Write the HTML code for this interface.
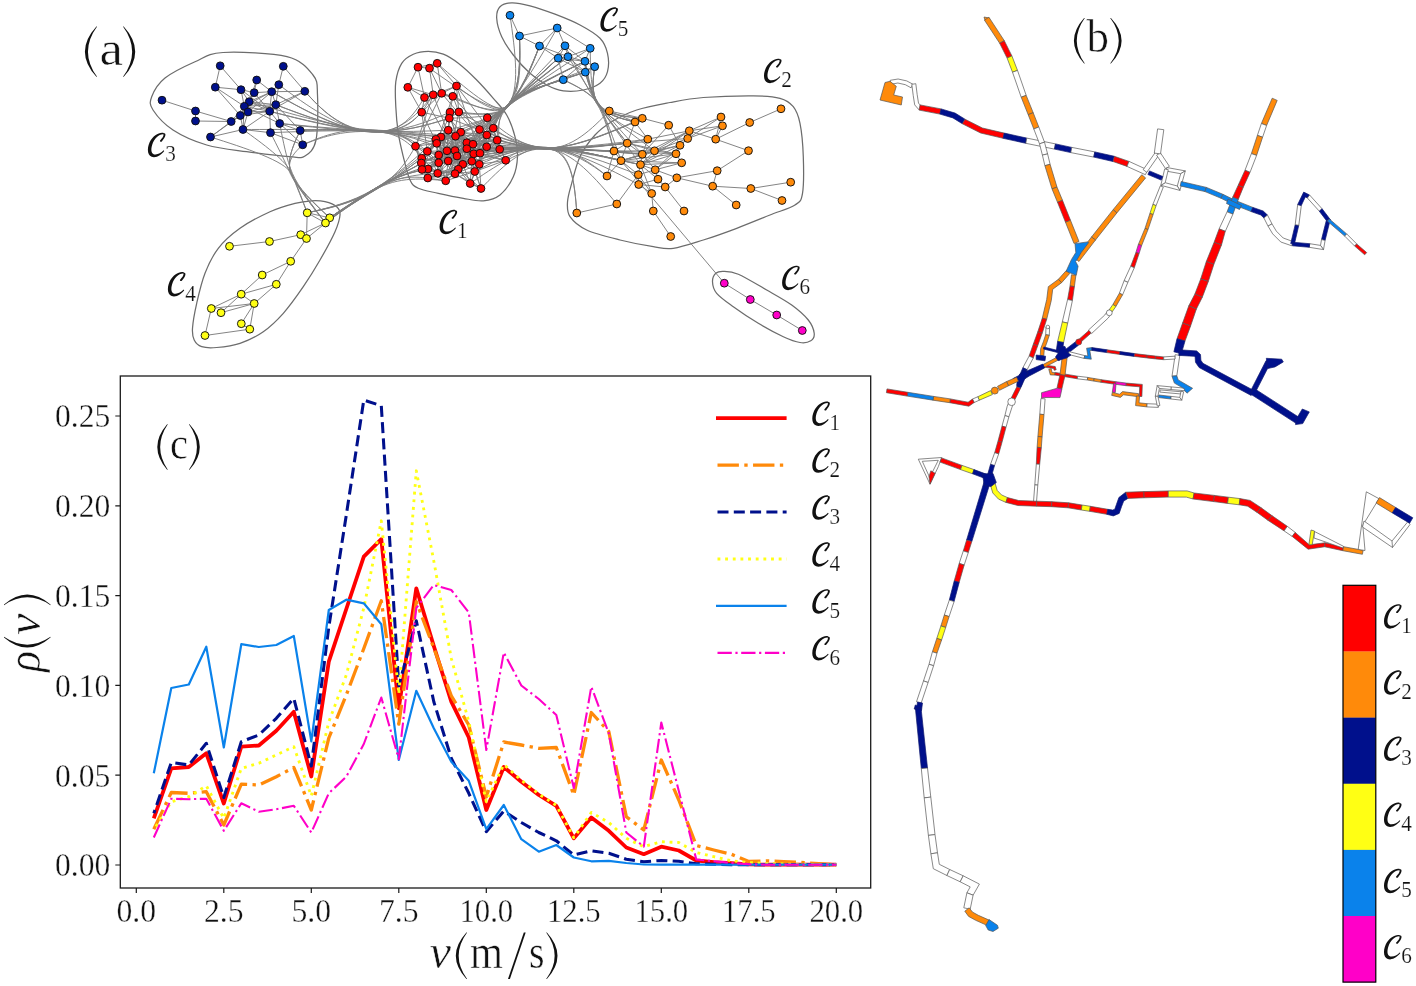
<!DOCTYPE html>
<html><head><meta charset="utf-8"><title>figure</title>
<style>
html,body{margin:0;padding:0;background:#fff;}
body{width:1416px;height:986px;overflow:hidden;font-family:"Liberation Serif",serif;}
svg{display:block;will-change:transform;}
text{font-family:"Liberation Serif",serif;fill:#111;}
</style></head><body>
<svg width="1416" height="986" viewBox="0 0 1416 986">
<rect width="1416" height="986" fill="#fff"/>
<g fill="none" stroke-linejoin="round">
<polyline points="153.8,818.3 171.3,768.3 188.8,767.0 206.3,753.3 223.8,803.5 241.3,746.7 258.8,745.5 276.3,730.8 293.8,711.7 311.3,776.5 328.8,661.7 346.3,609.0 363.8,556.7 381.3,539.2 398.8,708.3 416.3,588.3 433.8,646.0 451.3,701.7 468.8,737.5 486.3,810.0 503.8,767.0 521.3,781.7 538.8,795.0 556.3,805.8 573.8,838.3 591.3,817.5 608.8,830.8 626.3,847.5 643.8,854.2 661.3,846.7 678.8,850.5 696.3,860.5 713.8,862.2 731.3,863.2 748.8,864.3 766.3,864.7 783.8,864.7 801.3,864.7 818.8,864.7 836.3,864.7" stroke="#ff0000" stroke-width="3.80"/>
<polyline points="153.8,829.2 171.3,792.5 188.8,793.3 206.3,791.7 223.8,825.0 241.3,784.2 258.8,785.0 276.3,776.7 293.8,767.5 311.3,810.0 328.8,738.0 346.3,695.0 363.8,648.5 381.3,600.8 398.8,724.2 416.3,601.7 433.8,648.0 451.3,695.8 468.8,725.0 486.3,797.0 503.8,742.0 521.3,745.0 538.8,748.3 556.3,747.5 573.8,795.0 591.3,712.5 608.8,731.7 626.3,816.7 643.8,830.0 661.3,760.0 678.8,800.0 696.3,845.5 713.8,850.0 731.3,854.2 748.8,861.5 766.3,860.8 783.8,861.7 801.3,862.5 818.8,863.7 836.3,864.7" stroke="#ff8a0a" stroke-width="3.30" stroke-dasharray="21.4 5.4 3.35 5.4"/>
<polyline points="153.8,813.3 171.3,762.5 188.8,765.0 206.3,743.3 223.8,797.5 241.3,741.7 258.8,735.0 276.3,718.3 293.8,698.3 311.3,766.0 328.8,627.0 346.3,515.0 363.8,400.0 381.3,405.8 398.8,686.0 416.3,620.8 433.8,701.7 451.3,758.3 468.8,793.3 486.3,831.7 503.8,811.0 521.3,822.5 538.8,832.5 556.3,840.8 573.8,855.0 591.3,850.8 608.8,853.3 626.3,859.2 643.8,861.7 661.3,860.5 678.8,861.3 696.3,863.7 713.8,864.2 731.3,864.7 748.8,864.7 766.3,864.7 783.8,864.7 801.3,864.7 818.8,864.7 836.3,864.7" stroke="#00108c" stroke-width="3.05" stroke-dasharray="11.0 5.3" stroke-dashoffset="7.4"/>
<polyline points="153.8,830.0 171.3,801.7 188.8,796.7 206.3,785.8 223.8,818.3 241.3,768.3 258.8,763.3 276.3,755.0 293.8,746.7 311.3,796.0 328.8,722.0 346.3,675.0 363.8,608.0 381.3,520.8 398.8,694.0 416.3,470.8 433.8,561.0 451.3,658.3 468.8,721.7 486.3,801.7 503.8,764.5 521.3,780.3 538.8,794.0 556.3,805.3 573.8,837.8 591.3,812.5 608.8,822.5 626.3,838.3 643.8,846.7 661.3,841.7 678.8,842.5 696.3,852.5 713.8,856.7 731.3,860.8 748.8,862.5 766.3,863.5 783.8,864.0 801.3,864.3 818.8,864.7 836.3,864.7" stroke="#ffff14" stroke-width="2.85" stroke-dasharray="2.85 4.8" stroke-dashoffset="3.57"/>
<polyline points="153.8,773.3 171.3,688.0 188.8,684.5 206.3,646.7 223.8,747.5 241.3,644.2 258.8,647.0 276.3,645.0 293.8,636.0 311.3,741.3 328.8,610.0 346.3,599.7 363.8,603.3 381.3,624.2 398.8,760.0 416.3,690.8 433.8,728.3 451.3,761.7 468.8,780.8 486.3,829.2 503.8,805.0 521.3,839.2 538.8,851.7 556.3,845.0 573.8,857.5 591.3,861.3 608.8,860.8 626.3,863.0 643.8,864.5 661.3,864.7 678.8,864.7 696.3,864.7 713.8,864.7 731.3,864.7 748.8,864.7 766.3,864.7 783.8,864.7 801.3,864.7 818.8,864.7 836.3,864.7" stroke="#0a82eb" stroke-width="2.20"/>
<polyline points="153.8,837.5 171.3,798.7 188.8,799.2 206.3,798.7 223.8,830.8 241.3,803.3 258.8,811.7 276.3,809.2 293.8,805.8 311.3,832.5 328.8,793.3 346.3,776.7 363.8,744.0 381.3,697.5 398.8,759.2 416.3,608.0 433.8,585.0 451.3,590.0 468.8,612.5 486.3,750.0 503.8,652.5 521.3,685.5 538.8,699.0 556.3,715.0 573.8,788.0 591.3,686.7 608.8,733.3 626.3,832.5 643.8,846.7 661.3,722.5 678.8,791.0 696.3,859.5 713.8,861.3 731.3,863.0 748.8,864.2 766.3,864.7 783.8,864.7 801.3,864.7 818.8,864.7 836.3,864.7" stroke="#ff00c8" stroke-width="2.10" stroke-dasharray="14.3 3.6 2.2 3.6"/>
</g>
<rect x="120.3" y="376" width="750.4" height="512" fill="none" stroke="#1a1a1a" stroke-width="1.3"/>
<path d="M136.3 888v5 M223.8 888v5 M311.3 888v5 M398.8 888v5 M486.3 888v5 M573.8 888v5 M661.3 888v5 M748.8 888v5 M836.3 888v5 M120.3 865.0h-5 M120.3 775.2h-5 M120.3 685.4h-5 M120.3 595.6h-5 M120.3 505.8h-5 M120.3 416.0h-5" stroke="#1a1a1a" stroke-width="1.2" fill="none"/>
<path d="M716.0 418.2H786.6" stroke="#ff0000" stroke-width="3.8" fill="none"/>
<path d="M717.5 465.1H786.6" stroke="#ff8a0a" stroke-width="3.3" fill="none" stroke-dasharray="21.4 5.4 3.35 5.4"/>
<path d="M717.5 512.1H786.6" stroke="#00108c" stroke-width="3.0" fill="none" stroke-dasharray="11.0 5.3"/>
<path d="M717.5 559.0H786.6" stroke="#ffff14" stroke-width="2.9" fill="none" stroke-dasharray="2.85 4.8"/>
<path d="M716.0 605.9H786.6" stroke="#0a82eb" stroke-width="2.2" fill="none"/>
<path d="M717.5 652.9H786.6" stroke="#ff00c8" stroke-width="2.1" fill="none" stroke-dasharray="14.3 3.6 2.2 3.6"/>
<rect x="1343" y="585.40" width="32.8" height="66.30" fill="#ff0000"/>
<rect x="1343" y="651.52" width="32.8" height="66.30" fill="#ff8a0a"/>
<rect x="1343" y="717.64" width="32.8" height="66.30" fill="#00108c"/>
<rect x="1343" y="783.76" width="32.8" height="66.30" fill="#ffff14"/>
<rect x="1343" y="849.88" width="32.8" height="66.30" fill="#0a82eb"/>
<rect x="1343" y="916.00" width="32.8" height="66.30" fill="#ff00c8"/>
<rect x="1343" y="585.3" width="32.8" height="396.8" fill="none" stroke="#000" stroke-width="1.2"/>
<g fill="#111">
<text x="55.0" y="876.4" font-size="33.6" textLength="55.2" lengthAdjust="spacingAndGlyphs" text-anchor="start" stroke="#fff" stroke-width="0.35">0.00</text>
<text x="55.0" y="786.6" font-size="33.6" textLength="55.2" lengthAdjust="spacingAndGlyphs" text-anchor="start" stroke="#fff" stroke-width="0.35">0.05</text>
<text x="55.0" y="696.8" font-size="33.6" textLength="55.2" lengthAdjust="spacingAndGlyphs" text-anchor="start" stroke="#fff" stroke-width="0.35">0.10</text>
<text x="55.0" y="607.0" font-size="33.6" textLength="55.2" lengthAdjust="spacingAndGlyphs" text-anchor="start" stroke="#fff" stroke-width="0.35">0.15</text>
<text x="55.0" y="517.2" font-size="33.6" textLength="55.2" lengthAdjust="spacingAndGlyphs" text-anchor="start" stroke="#fff" stroke-width="0.35">0.20</text>
<text x="55.0" y="427.4" font-size="33.6" textLength="55.2" lengthAdjust="spacingAndGlyphs" text-anchor="start" stroke="#fff" stroke-width="0.35">0.25</text>
<text x="116.5" y="921.7" font-size="33.6" textLength="39.6" lengthAdjust="spacingAndGlyphs" text-anchor="start" stroke="#fff" stroke-width="0.35">0.0</text>
<text x="204.0" y="921.7" font-size="33.6" textLength="39.6" lengthAdjust="spacingAndGlyphs" text-anchor="start" stroke="#fff" stroke-width="0.35">2.5</text>
<text x="291.5" y="921.7" font-size="33.6" textLength="39.6" lengthAdjust="spacingAndGlyphs" text-anchor="start" stroke="#fff" stroke-width="0.35">5.0</text>
<text x="379.0" y="921.7" font-size="33.6" textLength="39.6" lengthAdjust="spacingAndGlyphs" text-anchor="start" stroke="#fff" stroke-width="0.35">7.5</text>
<text x="459.4" y="921.7" font-size="33.6" textLength="53.8" lengthAdjust="spacingAndGlyphs" text-anchor="start" stroke="#fff" stroke-width="0.35">10.0</text>
<text x="546.9" y="921.7" font-size="33.6" textLength="53.8" lengthAdjust="spacingAndGlyphs" text-anchor="start" stroke="#fff" stroke-width="0.35">12.5</text>
<text x="634.4" y="921.7" font-size="33.6" textLength="53.8" lengthAdjust="spacingAndGlyphs" text-anchor="start" stroke="#fff" stroke-width="0.35">15.0</text>
<text x="721.9" y="921.7" font-size="33.6" textLength="53.8" lengthAdjust="spacingAndGlyphs" text-anchor="start" stroke="#fff" stroke-width="0.35">17.5</text>
<text x="809.4" y="921.7" font-size="33.6" textLength="53.8" lengthAdjust="spacingAndGlyphs" text-anchor="start" stroke="#fff" stroke-width="0.35">20.0</text>
<text x="99.5" y="64.8" font-size="49.0" textLength="23.5" lengthAdjust="spacingAndGlyphs" text-anchor="start" stroke="#fff" stroke-width="0.55">a</text>
<text x="1086.5" y="52.4" font-size="47.0" textLength="22.5" lengthAdjust="spacingAndGlyphs" text-anchor="start" stroke="#fff" stroke-width="0.55">b</text>
<text x="170.0" y="458.7" font-size="47.0" textLength="18.0" lengthAdjust="spacingAndGlyphs" text-anchor="start" stroke="#fff" stroke-width="0.55">c</text>
<text x="429.5" y="967.8" font-size="48.0" font-style="italic" textLength="21.5" lengthAdjust="spacingAndGlyphs" text-anchor="start" stroke="#fff" stroke-width="0.55">v</text>
<text x="470.0" y="967.8" font-size="48.0" textLength="33.0" lengthAdjust="spacingAndGlyphs" text-anchor="start" stroke="#fff" stroke-width="0.55">m</text>
<text x="529.0" y="967.8" font-size="48.0" textLength="15.5" lengthAdjust="spacingAndGlyphs" text-anchor="start" stroke="#fff" stroke-width="0.55">s</text>
<path d="M523.8 932.5L525.7 932.5L509.9 979L508 979Z"/>
<g transform="translate(0 0)">
</g>
<path d="M96.40 26.50Q73.40 51.65 96.40 76.80L97.10 76.80Q78.80 51.65 97.10 26.50Z M123.70 26.50Q146.70 51.65 123.70 76.80L123.00 76.80Q141.30 51.65 123.00 26.50Z M1084.10 17.90Q1063.70 40.70 1084.10 63.50L1084.80 63.50Q1068.70 40.70 1084.80 17.90Z M1110.90 17.90Q1132.30 40.70 1110.90 63.50L1110.20 63.50Q1127.30 40.70 1110.20 17.90Z M167.10 424.20Q147.50 446.95 167.10 469.70L167.80 469.70Q152.50 446.95 167.80 424.20Z M189.60 424.20Q210.00 446.95 189.60 469.70L188.90 469.70Q205.00 446.95 188.90 424.20Z M466.40 932.50Q445.20 955.75 466.40 979.00L467.10 979.00Q450.20 955.75 467.10 932.50Z M546.90 932.50Q568.10 955.75 546.90 979.00L546.20 979.00Q563.10 955.75 546.20 932.50Z"/>
</g>
<g fill="#111" transform="translate(39.5 672) rotate(-90)"><text x="0.0" y="0.0" font-size="48.0" font-style="italic" textLength="21.0" lengthAdjust="spacingAndGlyphs" text-anchor="start" stroke="#fff" stroke-width="0.55">ρ</text><path d="M34.50 -35.50Q14.50 -12.25 34.50 11.00L35.20 11.00Q19.50 -12.25 35.20 -35.50Z M67.50 -35.50Q87.50 -12.25 67.50 11.00L66.80 11.00Q82.50 -12.25 66.80 -35.50Z"/><text x="37.0" y="0.0" font-size="48.0" font-style="italic" textLength="21.5" lengthAdjust="spacingAndGlyphs" text-anchor="start" stroke="#fff" stroke-width="0.55">v</text></g>
<g fill="#111">
<g transform="translate(439.20 234.20) scale(0.04286 0.04169) translate(-320 -775)"><path d="M700 198C610 163 448 253 372 413C296 580 316 778 470 778C572 778 652 702 710 628L695 612C642 668 573 712 508 712C409 712 390 604 430 476C476 330 588 219 690 226Z"/><path d="M683 199C768 198 756 278 654 400C640 414 600 402 612 376C658 330 710 262 688 228Z"/></g><text x="456.9" y="238.3" font-size="23.3" textLength="10.6" lengthAdjust="spacingAndGlyphs" text-anchor="start" stroke="#fff" stroke-width="0.2">1</text>
<g transform="translate(763.60 83.00) scale(0.04286 0.04169) translate(-320 -775)"><path d="M700 198C610 163 448 253 372 413C296 580 316 778 470 778C572 778 652 702 710 628L695 612C642 668 573 712 508 712C409 712 390 604 430 476C476 330 588 219 690 226Z"/><path d="M683 199C768 198 756 278 654 400C640 414 600 402 612 376C658 330 710 262 688 228Z"/></g><text x="781.3" y="87.1" font-size="23.3" textLength="10.6" lengthAdjust="spacingAndGlyphs" text-anchor="start" stroke="#fff" stroke-width="0.2">2</text>
<g transform="translate(147.50 157.10) scale(0.04286 0.04169) translate(-320 -775)"><path d="M700 198C610 163 448 253 372 413C296 580 316 778 470 778C572 778 652 702 710 628L695 612C642 668 573 712 508 712C409 712 390 604 430 476C476 330 588 219 690 226Z"/><path d="M683 199C768 198 756 278 654 400C640 414 600 402 612 376C658 330 710 262 688 228Z"/></g><text x="165.2" y="161.2" font-size="23.3" textLength="10.6" lengthAdjust="spacingAndGlyphs" text-anchor="start" stroke="#fff" stroke-width="0.2">3</text>
<g transform="translate(167.50 296.40) scale(0.04286 0.04169) translate(-320 -775)"><path d="M700 198C610 163 448 253 372 413C296 580 316 778 470 778C572 778 652 702 710 628L695 612C642 668 573 712 508 712C409 712 390 604 430 476C476 330 588 219 690 226Z"/><path d="M683 199C768 198 756 278 654 400C640 414 600 402 612 376C658 330 710 262 688 228Z"/></g><text x="185.2" y="300.5" font-size="23.3" textLength="10.6" lengthAdjust="spacingAndGlyphs" text-anchor="start" stroke="#fff" stroke-width="0.2">4</text>
<g transform="translate(600.00 31.70) scale(0.04286 0.04169) translate(-320 -775)"><path d="M700 198C610 163 448 253 372 413C296 580 316 778 470 778C572 778 652 702 710 628L695 612C642 668 573 712 508 712C409 712 390 604 430 476C476 330 588 219 690 226Z"/><path d="M683 199C768 198 756 278 654 400C640 414 600 402 612 376C658 330 710 262 688 228Z"/></g><text x="617.7" y="35.8" font-size="23.3" textLength="10.6" lengthAdjust="spacingAndGlyphs" text-anchor="start" stroke="#fff" stroke-width="0.2">5</text>
<g transform="translate(781.70 290.00) scale(0.04286 0.04169) translate(-320 -775)"><path d="M700 198C610 163 448 253 372 413C296 580 316 778 470 778C572 778 652 702 710 628L695 612C642 668 573 712 508 712C409 712 390 604 430 476C476 330 588 219 690 226Z"/><path d="M683 199C768 198 756 278 654 400C640 414 600 402 612 376C658 330 710 262 688 228Z"/></g><text x="799.4" y="294.1" font-size="23.3" textLength="10.6" lengthAdjust="spacingAndGlyphs" text-anchor="start" stroke="#fff" stroke-width="0.2">6</text>
<g transform="translate(811.90 425.80) scale(0.04286 0.04169) translate(-320 -775)"><path d="M700 198C610 163 448 253 372 413C296 580 316 778 470 778C572 778 652 702 710 628L695 612C642 668 573 712 508 712C409 712 390 604 430 476C476 330 588 219 690 226Z"/><path d="M683 199C768 198 756 278 654 400C640 414 600 402 612 376C658 330 710 262 688 228Z"/></g><text x="829.6" y="429.9" font-size="23.3" textLength="10.6" lengthAdjust="spacingAndGlyphs" text-anchor="start" stroke="#fff" stroke-width="0.2">1</text>
<g transform="translate(1383.60 628.50) scale(0.04286 0.04169) translate(-320 -775)"><path d="M700 198C610 163 448 253 372 413C296 580 316 778 470 778C572 778 652 702 710 628L695 612C642 668 573 712 508 712C409 712 390 604 430 476C476 330 588 219 690 226Z"/><path d="M683 199C768 198 756 278 654 400C640 414 600 402 612 376C658 330 710 262 688 228Z"/></g><text x="1401.3" y="632.6" font-size="23.3" textLength="10.6" lengthAdjust="spacingAndGlyphs" text-anchor="start" stroke="#fff" stroke-width="0.2">1</text>
<g transform="translate(811.90 472.73) scale(0.04286 0.04169) translate(-320 -775)"><path d="M700 198C610 163 448 253 372 413C296 580 316 778 470 778C572 778 652 702 710 628L695 612C642 668 573 712 508 712C409 712 390 604 430 476C476 330 588 219 690 226Z"/><path d="M683 199C768 198 756 278 654 400C640 414 600 402 612 376C658 330 710 262 688 228Z"/></g><text x="829.6" y="476.8" font-size="23.3" textLength="10.6" lengthAdjust="spacingAndGlyphs" text-anchor="start" stroke="#fff" stroke-width="0.2">2</text>
<g transform="translate(1383.60 694.65) scale(0.04286 0.04169) translate(-320 -775)"><path d="M700 198C610 163 448 253 372 413C296 580 316 778 470 778C572 778 652 702 710 628L695 612C642 668 573 712 508 712C409 712 390 604 430 476C476 330 588 219 690 226Z"/><path d="M683 199C768 198 756 278 654 400C640 414 600 402 612 376C658 330 710 262 688 228Z"/></g><text x="1401.3" y="698.8" font-size="23.3" textLength="10.6" lengthAdjust="spacingAndGlyphs" text-anchor="start" stroke="#fff" stroke-width="0.2">2</text>
<g transform="translate(811.90 519.66) scale(0.04286 0.04169) translate(-320 -775)"><path d="M700 198C610 163 448 253 372 413C296 580 316 778 470 778C572 778 652 702 710 628L695 612C642 668 573 712 508 712C409 712 390 604 430 476C476 330 588 219 690 226Z"/><path d="M683 199C768 198 756 278 654 400C640 414 600 402 612 376C658 330 710 262 688 228Z"/></g><text x="829.6" y="523.8" font-size="23.3" textLength="10.6" lengthAdjust="spacingAndGlyphs" text-anchor="start" stroke="#fff" stroke-width="0.2">3</text>
<g transform="translate(1383.60 760.80) scale(0.04286 0.04169) translate(-320 -775)"><path d="M700 198C610 163 448 253 372 413C296 580 316 778 470 778C572 778 652 702 710 628L695 612C642 668 573 712 508 712C409 712 390 604 430 476C476 330 588 219 690 226Z"/><path d="M683 199C768 198 756 278 654 400C640 414 600 402 612 376C658 330 710 262 688 228Z"/></g><text x="1401.3" y="764.9" font-size="23.3" textLength="10.6" lengthAdjust="spacingAndGlyphs" text-anchor="start" stroke="#fff" stroke-width="0.2">3</text>
<g transform="translate(811.90 566.59) scale(0.04286 0.04169) translate(-320 -775)"><path d="M700 198C610 163 448 253 372 413C296 580 316 778 470 778C572 778 652 702 710 628L695 612C642 668 573 712 508 712C409 712 390 604 430 476C476 330 588 219 690 226Z"/><path d="M683 199C768 198 756 278 654 400C640 414 600 402 612 376C658 330 710 262 688 228Z"/></g><text x="829.6" y="570.7" font-size="23.3" textLength="10.6" lengthAdjust="spacingAndGlyphs" text-anchor="start" stroke="#fff" stroke-width="0.2">4</text>
<g transform="translate(1383.60 826.95) scale(0.04286 0.04169) translate(-320 -775)"><path d="M700 198C610 163 448 253 372 413C296 580 316 778 470 778C572 778 652 702 710 628L695 612C642 668 573 712 508 712C409 712 390 604 430 476C476 330 588 219 690 226Z"/><path d="M683 199C768 198 756 278 654 400C640 414 600 402 612 376C658 330 710 262 688 228Z"/></g><text x="1401.3" y="831.1" font-size="23.3" textLength="10.6" lengthAdjust="spacingAndGlyphs" text-anchor="start" stroke="#fff" stroke-width="0.2">4</text>
<g transform="translate(811.90 613.52) scale(0.04286 0.04169) translate(-320 -775)"><path d="M700 198C610 163 448 253 372 413C296 580 316 778 470 778C572 778 652 702 710 628L695 612C642 668 573 712 508 712C409 712 390 604 430 476C476 330 588 219 690 226Z"/><path d="M683 199C768 198 756 278 654 400C640 414 600 402 612 376C658 330 710 262 688 228Z"/></g><text x="829.6" y="617.6" font-size="23.3" textLength="10.6" lengthAdjust="spacingAndGlyphs" text-anchor="start" stroke="#fff" stroke-width="0.2">5</text>
<g transform="translate(1383.60 893.10) scale(0.04286 0.04169) translate(-320 -775)"><path d="M700 198C610 163 448 253 372 413C296 580 316 778 470 778C572 778 652 702 710 628L695 612C642 668 573 712 508 712C409 712 390 604 430 476C476 330 588 219 690 226Z"/><path d="M683 199C768 198 756 278 654 400C640 414 600 402 612 376C658 330 710 262 688 228Z"/></g><text x="1401.3" y="897.2" font-size="23.3" textLength="10.6" lengthAdjust="spacingAndGlyphs" text-anchor="start" stroke="#fff" stroke-width="0.2">5</text>
<g transform="translate(811.90 660.45) scale(0.04286 0.04169) translate(-320 -775)"><path d="M700 198C610 163 448 253 372 413C296 580 316 778 470 778C572 778 652 702 710 628L695 612C642 668 573 712 508 712C409 712 390 604 430 476C476 330 588 219 690 226Z"/><path d="M683 199C768 198 756 278 654 400C640 414 600 402 612 376C658 330 710 262 688 228Z"/></g><text x="829.6" y="664.6" font-size="23.3" textLength="10.6" lengthAdjust="spacingAndGlyphs" text-anchor="start" stroke="#fff" stroke-width="0.2">6</text>
<g transform="translate(1383.60 959.25) scale(0.04286 0.04169) translate(-320 -775)"><path d="M700 198C610 163 448 253 372 413C296 580 316 778 470 778C572 778 652 702 710 628L695 612C642 668 573 712 508 712C409 712 390 604 430 476C476 330 588 219 690 226Z"/><path d="M683 199C768 198 756 278 654 400C640 414 600 402 612 376C658 330 710 262 688 228Z"/></g><text x="1401.3" y="963.4" font-size="23.3" textLength="10.6" lengthAdjust="spacingAndGlyphs" text-anchor="start" stroke="#fff" stroke-width="0.2">6</text>
</g>
<g fill="none" stroke="#6c6c6c" stroke-width="1.25">
<path d="M223.0 52.5C238.3 51.7 272.0 53.0 287.0 56.7C302.0 60.5 307.9 68.6 313.0 75.0C318.1 81.4 317.0 84.2 317.5 95.0C318.0 105.8 318.1 129.8 316.0 140.0C313.9 150.2 309.3 153.2 305.0 156.0C300.7 158.8 299.7 157.4 290.0 156.7C280.3 156.0 260.6 153.6 246.7 151.7C232.8 149.8 219.0 148.6 206.7 145.0C194.4 141.4 181.9 135.8 173.0 130.0C164.1 124.2 156.6 115.5 153.0 110.0C149.4 104.5 149.7 102.0 151.7 96.7C153.7 91.4 157.8 83.8 165.0 78.0C172.2 72.2 185.3 66.0 195.0 61.7C204.7 57.5 207.7 53.3 223.0 52.5Z"/>
<path d="M428.3 51.3C433.3 51.3 438.3 52.2 443.3 54.2C448.3 56.2 452.7 59.0 458.3 63.3C463.9 67.6 470.9 74.2 476.7 80.0C482.5 85.8 488.3 92.5 493.3 98.3C498.3 104.1 503.1 108.6 506.7 115.0C510.3 121.4 513.2 129.8 515.0 136.7C516.8 143.6 517.8 150.0 517.5 156.7C517.2 163.4 516.2 170.3 513.3 176.7C510.4 183.1 505.0 191.0 500.0 195.0C495.0 199.0 489.4 200.2 483.3 200.8C477.2 201.4 470.8 199.6 463.3 198.3C455.8 197.1 445.8 195.0 438.3 193.3C430.8 191.6 423.0 190.5 418.3 188.3C413.6 186.1 412.5 185.3 410.0 180.0C407.5 174.7 405.2 164.5 403.3 156.7C401.4 148.9 399.6 141.6 398.3 133.3C397.1 125.0 396.2 115.3 395.8 106.7C395.4 98.1 394.8 88.9 395.8 81.7C396.8 74.5 398.8 67.9 401.7 63.3C404.6 58.7 408.9 56.2 413.3 54.2C417.7 52.2 423.3 51.3 428.3 51.3Z"/>
<path d="M511.7 2.8C516.7 2.6 522.8 3.9 530.0 5.8C537.2 7.7 546.7 11.0 555.0 14.2C563.3 17.4 572.5 21.0 580.0 25.0C587.5 29.0 595.4 33.6 600.0 38.3C604.6 43.0 606.2 47.7 607.5 53.3C608.8 58.9 608.8 66.7 607.5 71.7C606.2 76.7 604.0 80.2 600.0 83.3C596.0 86.3 589.4 88.8 583.3 90.0C577.2 91.2 569.4 91.6 563.3 90.8C557.2 90.0 552.2 87.9 546.7 85.0C541.2 82.1 535.6 78.3 530.0 73.3C524.4 68.3 518.0 61.1 513.3 55.0C508.6 48.9 504.5 42.8 501.7 36.7C498.9 30.6 497.0 23.3 496.7 18.3C496.4 13.3 497.5 9.3 500.0 6.7C502.5 4.1 506.7 2.9 511.7 2.8Z"/>
<path d="M570.0 216.7C573.2 221.4 578.4 226.1 586.7 230.0C595.0 233.9 608.9 237.2 620.0 240.0C631.1 242.8 644.4 245.3 653.3 246.7C662.2 248.1 665.0 249.4 673.3 248.3C681.6 247.2 692.7 243.3 703.3 240.0C713.9 236.7 725.6 232.5 736.7 228.3C747.8 224.1 760.3 218.9 770.0 215.0C779.7 211.1 789.6 208.6 795.0 205.0C800.4 201.4 801.1 201.4 802.5 193.3C803.9 185.2 803.7 168.4 803.3 156.7C802.9 145.0 801.7 131.6 800.0 123.3C798.3 115.0 796.6 110.9 793.3 106.7C790.0 102.5 786.7 100.1 780.0 98.3C773.3 96.5 766.1 95.9 753.3 95.8C740.5 95.7 717.2 96.4 703.3 97.5C689.4 98.6 681.1 100.4 670.0 102.5C658.9 104.6 646.4 106.8 636.7 110.0C627.0 113.2 618.7 117.5 611.7 121.7C604.8 125.9 600.3 129.2 595.0 135.0C589.7 140.8 583.9 148.6 580.0 156.7C576.1 164.8 573.8 175.8 571.7 183.3C569.6 190.9 567.8 196.4 567.5 202.0C567.2 207.6 566.8 212.0 570.0 216.7Z"/>
<path d="M311.7 200.8C316.7 200.5 320.8 200.7 325.0 201.7C329.2 202.7 334.2 204.5 336.7 206.7C339.2 208.9 340.3 210.8 340.0 215.0C339.7 219.2 338.3 224.2 335.0 231.7C331.7 239.2 325.3 250.8 320.0 260.0C314.7 269.2 309.4 277.8 303.3 286.7C297.2 295.6 290.0 305.8 283.3 313.3C276.6 320.8 270.5 326.7 263.3 331.7C256.1 336.7 247.8 340.7 240.0 343.3C232.2 345.9 223.1 346.9 216.7 347.5C210.3 348.1 205.4 347.9 201.7 346.7C197.9 345.4 195.7 343.1 194.2 340.0C192.7 336.9 192.1 334.4 192.5 328.3C192.9 322.2 194.6 312.5 196.7 303.3C198.8 294.1 201.4 282.5 205.0 273.3C208.6 264.1 212.5 255.8 218.3 248.3C224.1 240.8 231.4 234.4 240.0 228.3C248.6 222.2 260.8 215.9 270.0 211.7C279.2 207.5 288.1 205.1 295.0 203.3C301.9 201.5 306.7 201.1 311.7 200.8Z"/>
<path d="M723.3 271.3C727.0 271.4 731.1 271.1 738.3 274.2C745.5 277.3 757.8 284.9 766.7 290.0C775.6 295.1 784.8 300.0 791.7 305.0C798.6 310.0 804.5 315.3 808.3 320.0C812.0 324.7 813.8 329.8 814.2 333.3C814.6 336.8 813.2 339.3 810.8 340.8C808.4 342.3 804.6 343.2 800.0 342.5C795.4 341.8 790.2 339.9 783.3 336.7C776.3 333.5 766.6 328.3 758.3 323.3C750.0 318.3 740.2 311.7 733.3 306.7C726.4 301.7 720.2 297.5 716.7 293.3C713.2 289.1 712.6 285.0 712.5 281.7C712.4 278.4 714.0 275.0 715.8 273.3C717.6 271.6 719.5 271.2 723.3 271.3Z"/>
</g>
<path d="M307.2 212.8 L329.7 217.8 M307.2 212.8 L325.5 223.0 M329.7 217.8 L325.5 223.0 M307.2 212.8 L306.5 238.5 M325.5 223.0 L306.5 238.5 M325.5 223.0 L300.7 234.7 M300.7 234.7 L269.5 241.5 M269.5 241.5 L229.5 246.3 M306.5 238.5 L290.7 261.3 M290.7 261.3 L262.2 275.0 M290.7 261.3 L276.3 284.3 M262.2 275.0 L241.2 294.2 M276.3 284.3 L241.2 294.2 M276.3 284.3 L254.2 303.5 M241.2 294.2 L254.2 303.5 M241.2 294.2 L211.3 308.5 M241.2 294.2 L221.0 312.7 M254.2 303.5 L211.3 308.5 M254.2 303.5 L221.0 312.7 M254.2 303.5 L241.3 323.7 M254.2 303.5 L249.8 329.2 M211.3 308.5 L205.0 335.5 M205.0 335.5 L249.8 329.2 M241.3 323.7 L249.8 329.2 M220.2 65.8 L215.3 87.2 M220.2 65.8 L241.0 89.7 M283.3 66.3 L278.8 84.7 M283.3 66.3 L304.8 91.3 M256.7 80.0 L271.7 91.7 M256.7 80.0 L254.2 92.7 M278.8 84.7 L271.7 91.7 M215.3 87.2 L241.0 89.7 M215.3 87.2 L244.3 106.3 M215.3 87.2 L240.3 115.5 M241.0 89.7 L254.2 92.7 M241.0 89.7 L249.2 101.7 M254.2 92.7 L271.7 91.7 M254.2 92.7 L249.2 101.7 M271.7 91.7 L304.8 91.3 M271.7 91.7 L275.8 104.7 M271.7 91.7 L269.7 111.3 M304.8 91.3 L275.8 104.7 M304.8 91.3 L269.7 111.3 M162.0 100.2 L195.5 111.0 M195.5 111.0 L231.2 121.5 M195.5 121.0 L231.2 121.5 M195.5 111.0 L195.5 121.0 M231.2 121.5 L240.3 115.5 M231.2 121.5 L210.5 137.0 M210.5 137.0 L243.0 129.5 M243.0 129.5 L240.3 115.5 M243.0 129.5 L248.0 112.0 M243.0 129.5 L269.7 111.3 M244.3 106.3 L269.7 111.3 M249.2 101.7 L269.7 111.3 M248.0 112.0 L269.7 111.3 M269.7 111.3 L270.5 132.7 M269.7 111.3 L279.7 123.5 M279.7 123.5 L300.2 130.5 M279.7 123.5 L302.7 144.8 M270.5 132.7 L302.7 144.8 M300.2 130.5 L302.7 144.8 M275.8 104.7 L279.7 123.5 M275.8 104.7 L300.2 130.5 M241.0 89.7 L244.3 106.3 M241.0 89.7 L269.7 111.3 M254.2 92.7 L269.7 111.3 M249.2 101.7 L275.8 104.7 M244.3 106.3 L275.8 104.7 M248.0 112.0 L275.8 104.7 M240.3 115.5 L269.7 111.3 M244.3 106.3 L271.7 91.7 M249.2 101.7 L271.7 91.7 M254.2 92.7 L244.3 106.3 M278.8 84.7 L275.8 104.7 M256.7 80.0 L249.2 101.7 M210.5 137.0 L240.3 115.5 M243.0 129.5 L270.5 132.7 M240.3 115.5 L254.2 92.7 M244.3 106.3 L279.7 123.5 M248.0 112.0 L271.7 91.7 M249.2 101.7 L248.0 112.0 M244.3 106.3 L240.3 115.5 M231.2 121.5 L248.0 112.0 M231.2 121.5 L244.3 106.3 M243.0 129.5 L244.3 106.3 M510.0 15.3 L519.5 36.0 M519.5 36.0 L557.2 28.0 M519.5 36.0 L539.5 46.0 M557.2 28.0 L565.0 45.8 M557.2 28.0 L590.2 48.3 M539.5 46.0 L558.2 58.2 M565.0 45.8 L558.2 58.2 M565.0 45.8 L568.0 56.7 M590.2 48.3 L585.0 61.3 M590.2 48.3 L568.0 56.7 M558.2 58.2 L568.0 56.7 M568.0 56.7 L585.0 61.3 M585.0 61.3 L594.7 66.7 M585.0 61.3 L585.3 72.2 M594.7 66.7 L585.3 72.2 M558.2 58.2 L563.3 79.7 M568.0 56.7 L585.3 72.2 M563.3 79.7 L585.3 72.2 M558.2 58.2 L585.0 61.3 M539.5 46.0 L568.0 56.7 M565.0 45.8 L585.0 61.3 M563.3 79.7 L585.0 61.3 M558.2 58.2 L585.3 72.2 M557.2 28.0 L539.5 46.0 M609.3 111.0 L635.0 122.0 M609.3 111.0 L642.3 118.3 M642.3 118.3 L668.7 125.2 M642.3 118.3 L635.0 122.0 M635.0 122.0 L627.2 143.2 M635.0 122.0 L647.8 139.2 M668.7 125.2 L680.0 145.3 M668.7 125.2 L642.3 154.3 M721.0 117.0 L689.3 130.8 M722.5 125.8 L689.3 130.8 M721.0 117.0 L687.7 138.5 M722.5 125.8 L687.7 138.5 M721.0 117.0 L715.7 139.2 M722.5 125.8 L715.7 139.2 M781.0 108.8 L749.7 122.5 M749.7 122.5 L715.7 139.2 M689.3 130.8 L647.8 139.2 M689.3 130.8 L654.5 150.8 M687.7 138.5 L654.5 150.8 M687.7 138.5 L680.0 145.3 M715.7 139.2 L748.5 150.7 M715.7 139.2 L689.3 130.8 M647.8 139.2 L627.2 143.2 M647.8 139.2 L642.3 154.3 M627.2 143.2 L614.0 151.0 M627.2 143.2 L621.0 160.7 M627.2 143.2 L654.5 150.8 M627.2 143.2 L676.0 153.8 M680.0 145.3 L676.0 153.8 M680.0 145.3 L654.5 150.8 M614.0 151.0 L621.0 160.7 M614.0 151.0 L607.0 176.0 M614.0 151.0 L642.3 154.3 M654.5 150.8 L642.3 154.3 M654.5 150.8 L640.5 164.7 M642.3 154.3 L640.5 164.7 M642.3 154.3 L621.0 160.7 M676.0 153.8 L681.7 162.8 M676.0 153.8 L640.5 164.7 M676.0 153.8 L655.2 169.8 M748.5 150.7 L717.2 170.7 M621.0 160.7 L640.5 164.7 M621.0 160.7 L607.0 176.0 M621.0 160.7 L638.3 174.7 M681.7 162.8 L640.5 164.7 M681.7 162.8 L655.2 169.8 M640.5 164.7 L655.2 169.8 M640.5 164.7 L638.3 174.7 M655.2 169.8 L658.0 179.2 M655.2 169.8 L676.8 177.8 M717.2 170.7 L676.8 177.8 M717.2 170.7 L712.7 186.2 M638.3 174.7 L638.7 184.5 M638.3 174.7 L616.8 204.0 M658.0 179.2 L665.2 187.0 M658.0 179.2 L638.7 184.5 M676.8 177.8 L712.7 186.2 M676.8 177.8 L665.2 187.0 M790.7 182.2 L750.8 188.5 M638.7 184.5 L651.7 193.5 M638.7 184.5 L665.2 187.0 M665.2 187.0 L684.0 211.0 M712.7 186.2 L750.8 188.5 M712.7 186.2 L736.2 205.0 M750.8 188.5 L782.0 200.5 M651.7 193.5 L653.3 211.0 M616.8 204.0 L576.8 213.0 M653.3 211.0 L670.7 236.5 M640.5 164.7 L658.0 179.2 M642.3 154.3 L655.2 169.8 M654.5 150.8 L676.0 153.8 M621.0 160.7 L654.5 150.8 M627.2 143.2 L642.3 154.3 M621.0 160.7 L681.7 162.8 M614.0 151.0 L654.5 150.8 M640.5 164.7 L680.0 145.3 M655.2 169.8 L687.7 138.5 M642.3 154.3 L689.3 130.8 M640.5 164.7 L689.3 130.8 M621.0 160.7 L680.0 145.3 M638.3 174.7 L655.2 169.8 M627.2 143.2 L687.7 138.5 M621.0 160.7 L676.0 153.8 M614.0 151.0 L676.0 153.8 M640.5 164.7 L651.7 193.5 M638.3 174.7 L651.7 193.5 M724.3 283.2 L750.3 299.5 M750.3 299.5 L776.7 315.0 M776.7 315.0 L802.3 330.5 M460.8 132.2 L435.8 139.3 M458.3 169.2 L470.2 183.5 M460.8 132.2 L447.0 150.8 M441.7 93.3 L415.5 146.2 M415.5 146.2 L438.7 162.8 M418.0 67.2 L424.5 97.5 M435.8 139.3 L422.0 169.5 M438.7 155.0 L448.2 161.0 M438.7 155.0 L458.3 169.2 M407.8 87.3 L433.2 94.8 M448.2 130.2 L460.8 132.2 M448.2 130.2 L473.0 144.2 M436.7 143.3 L421.7 158.2 M448.2 130.2 L438.7 155.0 M458.3 169.2 L437.7 173.3 M441.0 137.0 L435.8 139.3 M441.0 137.0 L447.0 150.8 M433.2 94.8 L457.0 156.0 M421.3 163.0 L428.0 169.0 M436.7 143.3 L466.8 142.7 M448.2 130.2 L455.5 136.2 M466.8 148.7 L438.7 162.8 M458.3 169.2 L445.7 180.8 M427.3 151.3 L455.0 150.5 M427.3 151.3 L421.3 163.0 M497.2 140.2 L505.7 160.3 M407.8 87.3 L424.5 97.5 M462.8 164.3 L474.8 171.5 M448.2 130.2 L466.8 142.7 M493.3 128.2 L497.2 140.2 M480.0 153.2 L448.2 161.0 M466.8 148.7 L462.8 164.3 M435.8 139.3 L436.7 143.3 M435.8 139.3 L455.0 150.5 M450.0 112.2 L449.3 118.2 M438.7 162.8 L437.7 173.3 M450.0 112.2 L447.0 150.8 M499.7 149.3 L480.0 153.2 M407.8 87.3 L421.7 112.2 M473.7 153.8 L471.8 161.2 M473.0 144.2 L471.8 161.2 M448.2 130.2 L441.0 137.0 M493.3 128.2 L486.8 135.0 M480.0 153.2 L505.7 160.3 M458.3 169.2 L427.8 178.0 M466.8 148.7 L458.3 169.2 M474.8 171.5 L470.2 183.5 M435.8 139.3 L415.5 146.2 M438.7 162.8 L462.8 164.3 M438.7 162.8 L445.7 180.8 M455.0 150.5 L437.7 173.3 M473.0 144.2 L480.0 153.2 M473.7 153.8 L480.0 153.2 M462.8 164.3 L455.0 173.7 M479.5 129.5 L499.7 149.3 M493.3 128.2 L473.0 144.2 M466.8 148.7 L438.7 155.0 M421.7 112.2 L427.3 151.3 M505.7 160.3 L479.3 164.3 M455.0 150.5 L457.0 156.0 M450.0 112.2 L458.8 112.0 M437.2 63.3 L441.7 93.3 M455.0 150.5 L462.8 164.3 M455.0 150.5 L445.7 180.8 M499.7 149.3 L473.7 153.8 M473.0 144.2 L455.0 150.5 M479.5 129.5 L486.7 146.8 M462.8 164.3 L470.2 183.5 M479.5 129.5 L480.0 153.2 M455.0 173.7 L427.8 178.0 M433.2 94.8 L421.7 112.2 M474.8 171.5 L445.7 180.8 M447.0 150.8 L422.0 169.5 M466.8 142.7 L497.2 140.2 M455.0 150.5 L448.2 161.0 M455.0 150.5 L458.3 169.2 M487.3 117.8 L493.3 128.2 M473.0 144.2 L473.7 153.8 M473.7 153.8 L479.3 164.3 M448.2 161.0 L422.0 169.5 M493.3 128.2 L466.8 142.7 M486.7 146.8 L480.0 153.2 M455.5 136.2 L471.8 161.2 M447.0 150.8 L471.8 161.2 M486.8 135.0 L473.0 144.2 M455.0 150.5 L438.7 155.0 M456.5 86.0 L497.2 140.2 M479.5 129.5 L493.3 128.2 M424.5 97.5 L441.7 93.3 M448.2 161.0 L471.8 161.2 M455.0 173.7 L474.8 171.5 M455.5 136.2 L486.7 146.8 M447.0 150.8 L428.0 169.0 M449.3 118.2 L460.8 132.2 M456.5 86.0 L458.8 112.0 M438.7 162.8 L471.8 161.2 M466.8 142.7 L473.0 144.2 M466.8 142.7 L438.7 155.0 M487.3 117.8 L479.5 129.5 M428.0 169.0 L437.7 173.3 M457.0 156.0 L437.7 173.3 M473.0 144.2 L497.2 140.2 M460.8 132.2 L457.0 156.0 M422.0 169.5 L455.0 173.7 M460.8 132.2 L462.8 164.3 M448.2 161.0 L428.0 169.0 M441.0 137.0 L438.7 162.8 M455.0 173.7 L481.0 188.5 M455.5 136.2 L436.7 143.3 M452.8 96.3 L436.7 143.3 M486.7 146.8 L473.7 153.8 M455.5 136.2 L455.0 150.5 M447.0 150.8 L455.0 150.5 M486.7 146.8 L479.3 164.3 M447.0 150.8 L421.3 163.0 M447.0 150.8 L455.0 173.7 M486.8 135.0 L466.8 142.7 M456.5 86.0 L433.2 94.8 M486.8 135.0 L499.7 149.3 M466.8 142.7 L466.8 148.7 M457.0 156.0 L462.8 164.3 M421.7 158.2 L438.7 162.8 M457.0 156.0 L445.7 180.8 M421.7 158.2 L437.7 173.3 M460.8 132.2 L486.8 135.0 M415.5 146.2 L427.3 151.3 M424.5 97.5 L433.2 94.8 M441.0 137.0 L457.0 156.0 M448.2 161.0 L455.0 173.7 M449.3 118.2 L448.2 130.2 M471.8 161.2 L474.8 171.5 M457.0 156.0 L448.2 161.0 M457.0 156.0 L458.3 169.2 M460.8 132.2 L473.0 144.2 M441.0 137.0 L427.3 151.3 M441.0 137.0 L448.2 161.0 M455.5 136.2 L447.0 150.8 M438.7 155.0 L471.8 161.2 M471.8 161.2 L481.0 188.5 M479.3 164.3 L474.8 171.5 M436.7 143.3 L455.0 150.5 M436.7 143.3 L421.3 163.0 M421.7 158.2 L448.2 161.0 M428.0 169.0 L427.8 178.0 M460.8 132.2 L455.5 136.2 M460.8 132.2 L466.8 148.7 M415.5 146.2 L421.7 158.2 M415.5 146.2 L422.0 169.5 M418.0 67.2 L407.8 87.3 M427.3 151.3 L438.7 162.8 M437.7 173.3 L445.7 180.8 M458.8 112.0 L449.3 118.2 M427.3 151.3 L437.7 173.3 M471.8 161.2 L455.0 173.7 M497.2 140.2 L499.7 149.3 M438.7 155.0 L428.0 169.0 M479.3 164.3 L481.0 188.5 M436.7 143.3 L415.5 146.2 M448.2 130.2 L455.0 150.5 M460.8 132.2 L466.8 142.7 M441.0 137.0 L455.5 136.2 M441.0 137.0 L466.8 148.7 M427.3 151.3 L457.0 156.0 M452.8 96.3 L458.8 112.0 M471.8 161.2 L479.3 164.3 M497.2 140.2 L486.7 146.8 M438.7 155.0 L421.3 163.0 M438.7 155.0 L455.0 173.7 M479.3 164.3 L455.0 173.7 M441.0 137.0 L466.8 142.7 M418.0 67.2 L437.2 63.3 M427.3 151.3 L448.2 161.0 M437.7 173.3 L427.8 178.0 M427.8 178.0 L445.7 180.8 M462.8 164.3 L437.7 173.3 M448.2 130.2 L435.8 139.3 M448.2 130.2 L447.0 150.8 M493.3 128.2 L499.7 149.3 M466.8 148.7 L499.7 149.3 M441.7 93.3 L421.7 112.2 M466.8 148.7 L471.8 161.2 M458.3 169.2 L481.0 188.5 M427.3 151.3 L438.7 155.0 M435.8 139.3 L427.3 151.3 M435.8 139.3 L448.2 161.0 M421.3 163.0 L427.8 178.0 M450.0 112.2 L455.5 136.2 M497.2 140.2 L473.7 153.8 M462.8 164.3 L445.7 180.8 M493.3 128.2 L486.7 146.8 M424.5 97.5 L457.0 156.0 M458.3 169.2 L455.0 173.7 M480.0 153.2 L455.0 173.7 M433.2 94.8 L452.8 96.3 M433.2 94.8 L415.5 146.2 M427.3 151.3 L421.7 158.2 M435.8 139.3 L438.7 155.0 M450.0 112.2 L448.2 130.2 M487.3 117.8 L497.2 140.2 M473.0 144.2 L457.0 156.0 M462.8 164.3 L458.3 169.2 M473.0 144.2 L462.8 164.3 M466.8 148.7 L455.0 150.5 M480.0 153.2 L479.3 164.3 M466.8 148.7 L455.0 173.7 M435.8 139.3 L466.8 148.7 M438.7 162.8 L428.0 169.0 M486.8 135.0 L471.8 161.2 M487.3 117.8 L486.8 135.0 M499.7 149.3 L505.7 160.3 M479.5 129.5 L497.2 140.2 M421.7 112.2 L436.7 143.3 M466.8 148.7 L473.7 153.8 M493.3 128.2 L473.7 153.8 M433.2 94.8 L441.7 93.3 M486.8 135.0 L486.7 146.8 M438.7 162.8 L421.3 163.0 M486.8 135.0 L480.0 153.2 M466.8 142.7 L499.7 149.3 M455.0 150.5 L428.0 169.0 M449.3 118.2 L471.8 161.2 M466.8 142.7 L474.8 171.5 M479.5 129.5 L486.8 135.0 M473.7 153.8 L505.7 160.3 M455.0 173.7 L470.2 183.5 M466.8 148.7 L447.0 150.8 M447.0 150.8 L438.7 162.8 M474.8 171.5 L481.0 188.5 M447.0 150.8 L437.7 173.3 M505.7 160.3 L474.8 171.5 M466.8 142.7 L486.7 146.8 M437.2 63.3 L456.5 86.0 M466.8 142.7 L480.0 153.2 M455.0 150.5 L455.0 173.7 M473.0 144.2 L466.8 148.7 M479.5 129.5 L473.0 144.2 M448.2 161.0 L438.7 162.8 M422.0 169.5 L445.7 180.8 M421.7 112.2 L449.3 118.2 M447.0 150.8 L457.0 156.0 M455.5 136.2 L457.0 156.0 M455.5 136.2 L462.8 164.3 M447.0 150.8 L462.8 164.3 M455.0 150.5 L473.7 153.8 M466.8 142.7 L455.0 150.5 M486.8 135.0 L479.3 164.3 M449.3 118.2 L421.3 163.0 M456.5 86.0 L480.0 153.2 M466.8 142.7 L455.0 173.7 M428.0 169.0 L422.0 169.5 M421.7 158.2 L427.8 178.0 M479.5 129.5 L466.8 148.7 M424.5 97.5 L421.7 112.2 M460.8 132.2 L471.8 161.2 M448.2 161.0 L462.8 164.3 M455.0 173.7 L445.7 180.8 M448.2 161.0 L445.7 180.8 M455.5 136.2 L486.8 135.0 M452.8 96.3 L486.8 135.0 M486.7 146.8 L505.7 160.3 M447.0 150.8 L448.2 161.0 M455.5 136.2 L448.2 161.0 M471.8 161.2 L470.2 183.5 M466.8 142.7 L473.7 153.8 M429.5 68.2 L441.7 93.3 M470.2 183.5 L481.0 188.5 M436.7 143.3 L437.7 173.3 M421.7 158.2 L422.0 169.5 M460.8 132.2 L486.7 146.8 M460.8 132.2 L480.0 153.2 M422.0 169.5 L427.8 178.0 M448.2 161.0 L458.3 169.2 M455.5 136.2 L473.0 144.2 M458.8 112.0 L486.8 135.0 M447.0 150.8 L438.7 155.0 M455.5 136.2 L438.7 155.0 M458.8 112.0 L448.2 161.0 M486.8 135.0 L497.2 140.2 M456.5 86.0 L452.8 96.3 M479.3 164.3 L470.2 183.5 M466.8 142.7 L447.0 150.8 M429.5 68.2 L437.2 63.3 M436.7 143.3 L462.8 164.3 M448.2 130.2 L438.7 162.8 M460.8 132.2 L436.7 143.3 M460.8 132.2 L455.0 150.5 M441.7 93.3 L486.7 146.8 M415.5 146.2 L421.3 163.0 M452.8 96.3 L450.0 112.2 M486.7 146.8 L499.7 149.3 M458.8 112.0 L460.8 132.2 M471.8 161.2 L462.8 164.3 M438.7 155.0 L438.7 162.8 M438.7 155.0 L437.7 173.3 M497.2 140.2 L479.3 164.3 M436.7 143.3 L427.3 151.3 M429.5 68.2 L433.2 94.8 M436.7 143.3 L448.2 161.0 M428.0 169.0 L455.0 173.7 M421.7 158.2 L428.0 169.0 M441.0 137.0 L436.7 143.3 M441.0 137.0 L455.0 150.5 M418.0 67.2 L429.5 68.2 M421.3 163.0 L422.0 169.5 M455.5 136.2 L466.8 142.7 M471.8 161.2 L458.3 169.2 M456.5 86.0 L441.7 93.3 M438.7 155.0 L462.8 164.3 M438.7 155.0 L445.7 180.8 M436.7 143.3 L438.7 155.0 M421.7 158.2 L421.3 163.0 M441.7 93.3 L452.8 96.3 M304.8 91.3C320.6 108.5 340.0 129.5 372.0 131.1C402.0 132.6 412.8 121.4 421.7 112.2 M304.8 91.3C320.6 108.7 340.0 129.9 372.0 131.5C402.0 133.0 428.0 124.9 449.3 118.2 M300.2 130.5C318.1 129.7 340.0 128.7 372.0 130.3C402.0 131.8 409.4 139.7 415.5 146.2 M300.2 130.5C318.1 130.1 340.0 129.7 372.0 131.3C402.0 132.8 420.6 136.4 435.8 139.3 M302.7 144.8C319.5 138.2 340.0 130.1 372.0 131.7C402.0 133.2 423.4 135.3 441.0 137.0 M302.7 144.8C319.5 137.4 340.0 128.4 372.0 130.0C402.0 131.5 415.9 142.4 427.3 151.3 M275.8 104.7C304.7 115.9 340.0 129.6 372.0 131.2C402.0 132.7 428.4 121.4 450.0 112.2 M275.8 104.7C304.7 115.7 340.0 129.1 372.0 130.7C402.0 132.2 427.4 131.1 448.2 130.2 M279.7 123.5C306.8 126.5 340.0 130.2 372.0 131.8C402.0 133.3 421.1 138.8 436.7 143.3 M279.7 123.5C306.8 126.0 340.0 129.1 372.0 130.7C402.0 132.2 426.8 142.4 447.0 150.8 M270.5 132.7C301.8 131.4 340.0 129.9 372.0 131.5C402.0 133.0 409.4 140.3 415.5 146.2 M269.7 111.3C301.3 119.6 340.0 129.7 372.0 131.3C402.0 132.8 428.0 124.8 449.3 118.2 M269.7 111.3C301.3 119.3 340.0 129.0 372.0 130.6C402.0 132.1 423.5 134.8 441.0 137.0 M271.7 91.7C302.4 109.2 339.9 130.6 371.9 132.2C401.9 133.7 414.3 113.8 424.5 97.5 M271.7 91.7C302.4 109.0 340.0 130.2 372.0 131.8C402.0 133.3 412.8 121.7 421.7 112.2 M278.8 84.7C306.3 105.1 340.0 130.1 372.0 131.7C402.0 133.2 419.1 112.1 433.2 94.8 M243.0 129.5C286.7 129.4 340.0 129.4 372.0 131.0C402.0 132.5 412.8 146.6 421.7 158.2 M249.2 101.7C290.1 113.7 340.1 128.3 372.1 129.9C402.1 131.4 431.5 134.0 455.5 136.2 M307.2 212.8C327.3 208.7 352.0 203.8 374.2 190.4C398.2 176.0 407.7 159.6 415.5 146.2 M307.2 212.8C327.3 208.6 351.8 203.5 374.1 190.2C398.1 175.8 411.1 166.1 421.7 158.2 M329.7 217.8C339.8 211.6 352.1 204.0 374.4 190.6C398.4 176.2 411.0 169.0 421.3 163.0 M329.7 217.8C339.6 211.3 351.7 203.3 374.0 190.0C398.0 175.6 411.2 172.2 422.0 169.5 M325.5 223.0C337.2 213.9 351.4 202.9 373.7 189.5C397.7 175.1 414.4 171.8 428.0 169.0 M325.5 223.0C337.1 213.9 351.4 202.8 373.6 189.4C397.6 175.0 414.0 162.0 427.3 151.3 M329.7 217.8C339.5 211.1 351.4 202.9 373.7 189.5C397.7 175.1 414.3 176.7 427.8 178.0 M325.5 223.0C337.2 213.9 351.4 202.8 373.7 189.5C397.7 175.1 420.2 168.3 438.7 162.8 M307.2 212.8C327.1 208.4 351.5 203.0 373.8 189.7C397.8 175.3 420.3 164.1 438.7 155.0 M329.7 217.8C339.7 211.4 351.9 203.6 374.2 190.3C398.2 175.9 411.1 166.2 421.7 158.2 M325.5 223.0C337.3 214.2 351.8 203.5 374.1 190.1C398.1 175.7 419.9 174.4 437.7 173.3 M329.7 217.8C339.5 211.1 351.4 202.8 373.7 189.4C397.7 175.0 418.6 155.4 435.8 139.3 M325.5 223.0C337.4 214.3 351.9 203.6 374.2 190.3C398.2 175.9 424.3 178.6 445.7 180.8 M307.2 212.8C327.1 208.3 351.3 202.7 373.6 189.3C397.6 175.0 414.3 171.7 428.0 169.0 M329.7 217.8C339.4 211.0 351.3 202.7 373.6 189.4C397.6 175.0 424.8 161.7 447.0 150.8 M300.2 130.5C293.7 144.2 285.7 161.0 291.3 173.9C296.9 186.7 314.9 203.8 329.7 217.8 M302.7 144.8C295.0 152.1 285.6 161.0 291.2 173.9C296.8 186.8 312.6 206.7 325.5 223.0 M300.2 130.5C293.7 144.2 285.8 160.9 291.4 173.8C297.0 186.7 312.7 206.7 325.5 223.0 M243.0 129.5C262.5 143.6 286.3 160.7 291.9 173.6C297.5 186.5 302.8 201.0 307.2 212.8 M210.5 137.0C244.4 147.8 285.8 161.0 291.4 173.8C297.0 186.7 302.6 201.1 307.2 212.8 M270.5 132.7C277.0 145.6 285.0 161.3 290.6 174.2C296.2 187.1 314.6 204.0 329.7 217.8 M279.7 123.5C282.9 140.2 286.8 160.5 292.4 173.4C298.0 186.3 313.1 206.5 325.5 223.0 M487.3 117.8C491.5 117.0 496.7 116.0 506.6 106.1C520.7 91.9 520.0 61.2 519.5 36.0 M493.3 128.2C495.0 122.8 497.0 116.3 506.9 106.4C521.0 92.2 515.0 49.9 510.0 15.3 M479.5 129.5C487.3 123.5 496.9 116.2 506.8 106.3C520.9 92.2 531.1 66.8 539.5 46.0 M486.8 135.0C491.4 126.5 496.9 116.2 506.8 106.3C521.0 92.2 541.4 73.5 558.2 58.2 M497.2 140.2C497.4 129.8 497.7 117.0 507.6 107.1C521.7 93.0 547.2 73.0 568.0 56.7 M486.7 146.8C491.4 133.2 497.3 116.5 507.1 106.6C521.3 92.5 556.3 75.3 585.0 61.3 M460.8 132.2C476.9 124.8 496.5 115.8 506.4 105.9C520.6 91.8 556.2 81.0 585.3 72.2 M455.5 136.2C474.4 127.5 497.5 116.8 507.4 106.9C521.6 92.8 544.5 85.6 563.3 79.7 M466.8 142.7C480.3 130.8 496.9 116.1 506.8 106.3C520.9 92.1 545.2 66.6 565.0 45.8 M473.0 144.2C483.6 131.4 496.5 115.8 506.4 105.9C520.6 91.8 540.7 56.7 557.2 28.0 M466.8 148.7C480.7 134.4 497.6 116.9 507.5 107.0C521.6 92.8 559.3 68.3 590.2 48.3 M448.2 130.2C470.4 124.2 497.6 116.9 507.5 107.0C521.7 92.9 561.8 78.5 594.7 66.7 M449.3 118.2C471.1 117.6 497.7 117.0 507.6 107.1C521.7 92.9 520.5 61.6 519.5 36.0 M450.0 112.2C471.5 114.4 497.7 117.0 507.6 107.1C521.8 93.0 531.5 67.1 539.5 46.0 M458.8 112.0C476.1 114.0 497.2 116.5 507.1 106.6C521.2 92.5 541.6 73.6 558.2 58.2 M429.5 68.2C459.7 89.7 496.7 116.0 506.6 106.1C520.7 91.9 544.1 85.2 563.3 79.7 M437.2 63.3C464.2 87.2 497.2 116.5 507.1 106.6C521.3 92.5 556.3 75.3 585.0 61.3 M456.5 86.0C474.7 99.6 496.9 116.2 506.8 106.3C520.9 92.1 556.3 81.2 585.3 72.2 M452.8 96.3C472.9 105.5 497.5 116.8 507.4 106.9C521.5 92.7 547.1 72.9 568.0 56.7 M441.7 93.3C466.5 103.6 496.8 116.1 506.7 106.2C520.8 92.0 541.4 73.4 558.2 58.2 M499.7 149.3C498.3 134.2 496.6 115.9 506.5 106.0C520.6 91.8 544.1 85.2 563.3 79.7 M473.7 153.8C484.4 137.1 497.4 116.7 507.3 106.8C521.5 92.7 531.4 67.0 539.5 46.0 M480.0 153.2C487.5 136.4 496.6 115.9 506.5 106.0C520.7 91.9 520.0 61.1 519.5 36.0 M455.0 150.5C474.2 135.4 497.7 117.0 507.6 107.1C521.8 93.0 556.5 75.6 585.0 61.3 M457.0 156.0C474.8 137.9 496.6 115.9 506.5 106.0C520.6 91.8 556.2 81.0 585.3 72.2 M441.0 137.0C466.1 127.6 496.9 116.2 506.8 106.3C520.9 92.1 544.2 85.3 563.3 79.7 M436.7 143.3C463.9 131.2 497.2 116.5 507.1 106.6C521.2 92.4 541.5 73.6 558.2 58.2 M447.0 150.8C469.5 135.2 496.9 116.2 506.8 106.3C521.0 92.2 546.8 72.7 568.0 56.7 M448.2 161.0C470.2 140.9 497.0 116.3 506.9 106.4C521.0 92.3 531.2 66.8 539.5 46.0 M471.8 161.2C483.0 140.8 496.7 115.9 506.5 106.0C520.7 91.9 520.0 61.2 519.5 36.0 M462.8 164.3C478.0 142.6 496.7 116.0 506.6 106.1C520.7 91.9 544.1 85.2 563.3 79.7 M479.3 164.3C487.1 142.5 496.7 116.0 506.6 106.1C520.7 91.9 556.1 75.1 585.0 61.3 M499.7 149.3C509.7 148.7 522.0 147.9 546.0 148.9C572.0 149.9 595.1 150.5 614.0 151.0 M497.2 140.2C508.4 143.2 522.0 146.9 546.0 147.9C572.0 148.9 602.4 145.8 627.2 143.2 M505.7 160.3C513.0 154.1 522.0 146.5 546.0 147.5C572.0 148.5 599.0 155.2 621.0 160.7 M486.7 146.8C502.6 147.4 522.0 148.1 546.0 149.1C572.0 150.1 591.2 164.4 607.0 176.0 M486.8 135.0C502.6 141.0 522.0 148.3 546.0 149.3C572.0 150.3 595.1 150.7 614.0 151.0 M493.3 128.2C506.2 137.2 522.0 148.1 546.0 149.1C572.0 150.1 602.3 146.3 627.2 143.2 M480.0 153.2C498.9 150.2 522.0 146.4 546.0 147.4C572.0 148.4 610.7 151.7 642.3 154.3 M473.7 153.8C495.4 150.7 522.0 146.9 546.0 147.8C572.0 148.9 609.7 157.6 640.5 164.7 M473.0 144.2C495.0 146.0 522.0 148.3 546.0 149.2C572.0 150.3 598.9 156.0 621.0 160.7 M466.8 142.7C491.6 144.6 522.0 146.9 546.0 147.9C572.0 148.9 595.1 150.1 614.0 151.0 M466.8 148.7C491.7 147.8 522.0 146.8 546.0 147.7C572.0 148.8 602.4 145.7 627.2 143.2 M457.0 156.0C486.3 152.0 522.0 147.2 546.0 148.1C572.0 149.2 608.5 163.2 638.3 174.7 M471.8 161.2C494.4 154.7 522.0 146.7 546.0 147.7C572.0 148.7 599.0 155.3 621.0 160.7 M479.3 164.3C498.5 156.3 522.0 146.5 546.0 147.5C572.0 148.5 591.3 163.6 607.0 176.0 M474.8 171.5C496.0 160.6 522.0 147.4 546.0 148.3C572.0 149.4 608.7 168.7 638.7 184.5 M487.3 117.8C502.9 131.1 522.0 147.3 546.0 148.3C572.0 149.3 592.5 128.3 609.3 111.0 M479.5 129.5C498.6 137.3 522.0 146.8 546.0 147.7C572.0 148.8 606.7 134.0 635.0 122.0 M460.8 132.2C488.4 138.7 522.0 146.6 546.0 147.5C572.0 148.6 613.7 143.4 647.8 139.2 M455.5 136.2C485.4 141.1 522.0 147.1 546.0 148.1C572.0 149.1 602.4 145.9 627.2 143.2 M455.0 150.5C485.1 149.1 522.0 147.5 546.0 148.4C572.0 149.5 595.1 150.3 614.0 151.0 M447.0 150.8C480.8 148.9 522.0 146.6 546.0 147.5C572.0 148.6 599.0 155.2 621.0 160.7 M462.8 164.3C489.5 156.3 522.0 146.6 546.0 147.5C572.0 148.6 610.7 151.7 642.3 154.3 M458.3 169.2C487.0 159.1 522.0 146.8 546.0 147.8C572.0 148.8 609.7 157.6 640.5 164.7 M448.2 161.0C481.4 154.8 522.0 147.2 546.0 148.2C572.0 149.2 595.1 150.2 614.0 151.0 M438.7 155.0C476.2 151.6 522.0 147.3 546.0 148.3C572.0 149.3 602.4 146.0 627.2 143.2 M438.7 162.8C476.2 156.1 522.0 147.9 546.0 148.8C572.0 149.9 596.6 179.6 616.8 204.0 M470.2 183.5C493.5 167.4 522.0 147.6 546.0 148.6C572.0 149.6 574.6 184.5 576.8 213.0 M481.0 188.5C499.5 169.5 522.0 146.4 546.0 147.3C572.0 148.4 574.7 183.9 576.8 213.0 M458.8 112.0C487.2 127.7 522.0 146.9 546.0 147.8C572.0 148.9 606.7 134.1 635.0 122.0 M449.3 118.2C482.0 131.1 522.0 146.9 546.0 147.9C572.0 148.9 610.7 132.1 642.3 118.3 M585.0 61.3C587.8 75.5 591.3 92.7 597.8 102.8C605.3 114.6 625.7 116.6 642.3 118.3 M594.7 66.7C593.0 78.5 591.0 93.0 597.4 103.0C605.0 114.8 621.5 118.8 635.0 122.0 M585.3 72.2C587.9 81.5 591.2 92.8 597.6 102.9C605.2 114.7 617.3 130.4 627.2 143.2 M563.3 79.7C575.8 85.7 591.0 92.9 597.5 103.0C605.0 114.8 610.0 134.7 614.0 151.0 M585.0 61.3C587.4 75.7 590.4 93.3 596.9 103.4C604.5 115.1 628.3 128.4 647.8 139.2 M585.3 72.2C588.2 81.3 591.7 92.5 598.2 102.6C605.7 114.3 625.8 136.3 642.3 154.3 M594.7 66.7C593.1 78.5 591.1 92.9 597.6 102.9C605.2 114.7 613.9 140.0 621.0 160.7 M590.2 48.3C590.5 68.4 590.8 93.1 597.3 103.2C604.8 114.9 621.4 118.8 635.0 122.0 M585.3 72.2C587.8 81.5 590.9 93.0 597.4 103.1C605.0 114.8 624.5 142.3 640.5 164.7 M563.3 79.7C575.6 85.7 590.7 93.1 597.2 103.2C604.8 114.9 617.1 130.5 627.2 143.2 M585.0 61.3C587.4 75.8 590.3 93.4 596.7 103.5C604.3 115.3 609.6 134.9 614.0 151.0 M594.7 66.7C593.1 78.4 591.2 92.8 597.7 102.9C605.3 114.6 632.3 134.5 654.5 150.8 M565.0 45.8C576.4 67.2 590.3 93.4 596.8 103.5C604.3 115.2 625.2 116.9 642.3 118.3 M568.0 56.7C578.4 72.9 591.2 92.8 597.7 102.9C605.3 114.6 621.6 118.7 635.0 122.0 M621.0 160.7 L724.3 283.2" fill="none" stroke="#7d7d7d" stroke-width="0.95"/>
<g fill="#00108c" stroke="#111" stroke-width="0.95">
<circle cx="220.2" cy="65.8" r="3.9"/>
<circle cx="283.3" cy="66.3" r="3.9"/>
<circle cx="256.7" cy="80.0" r="3.9"/>
<circle cx="278.8" cy="84.7" r="3.9"/>
<circle cx="215.3" cy="87.2" r="3.9"/>
<circle cx="241.0" cy="89.7" r="3.9"/>
<circle cx="254.2" cy="92.7" r="3.9"/>
<circle cx="271.7" cy="91.7" r="3.9"/>
<circle cx="304.8" cy="91.3" r="3.9"/>
<circle cx="162.0" cy="100.2" r="3.9"/>
<circle cx="249.2" cy="101.7" r="3.9"/>
<circle cx="244.3" cy="106.3" r="3.9"/>
<circle cx="275.8" cy="104.7" r="3.9"/>
<circle cx="195.5" cy="111.0" r="3.9"/>
<circle cx="248.0" cy="112.0" r="3.9"/>
<circle cx="269.7" cy="111.3" r="3.9"/>
<circle cx="240.3" cy="115.5" r="3.9"/>
<circle cx="195.5" cy="121.0" r="3.9"/>
<circle cx="231.2" cy="121.5" r="3.9"/>
<circle cx="279.7" cy="123.5" r="3.9"/>
<circle cx="243.0" cy="129.5" r="3.9"/>
<circle cx="270.5" cy="132.7" r="3.9"/>
<circle cx="300.2" cy="130.5" r="3.9"/>
<circle cx="210.5" cy="137.0" r="3.9"/>
<circle cx="302.7" cy="144.8" r="3.9"/>
</g>
<g fill="#ff0000" stroke="#111" stroke-width="0.95">
<circle cx="418.0" cy="67.2" r="3.9"/>
<circle cx="429.5" cy="68.2" r="3.9"/>
<circle cx="437.2" cy="63.3" r="3.9"/>
<circle cx="407.8" cy="87.3" r="3.9"/>
<circle cx="456.5" cy="86.0" r="3.9"/>
<circle cx="424.5" cy="97.5" r="3.9"/>
<circle cx="433.2" cy="94.8" r="3.9"/>
<circle cx="441.7" cy="93.3" r="3.9"/>
<circle cx="452.8" cy="96.3" r="3.9"/>
<circle cx="421.7" cy="112.2" r="3.9"/>
<circle cx="450.0" cy="112.2" r="3.9"/>
<circle cx="458.8" cy="112.0" r="3.9"/>
<circle cx="449.3" cy="118.2" r="3.9"/>
<circle cx="487.3" cy="117.8" r="3.9"/>
<circle cx="448.2" cy="130.2" r="3.9"/>
<circle cx="460.8" cy="132.2" r="3.9"/>
<circle cx="479.5" cy="129.5" r="3.9"/>
<circle cx="493.3" cy="128.2" r="3.9"/>
<circle cx="441.0" cy="137.0" r="3.9"/>
<circle cx="455.5" cy="136.2" r="3.9"/>
<circle cx="486.8" cy="135.0" r="3.9"/>
<circle cx="435.8" cy="139.3" r="3.9"/>
<circle cx="436.7" cy="143.3" r="3.9"/>
<circle cx="466.8" cy="142.7" r="3.9"/>
<circle cx="473.0" cy="144.2" r="3.9"/>
<circle cx="497.2" cy="140.2" r="3.9"/>
<circle cx="415.5" cy="146.2" r="3.9"/>
<circle cx="486.7" cy="146.8" r="3.9"/>
<circle cx="466.8" cy="148.7" r="3.9"/>
<circle cx="427.3" cy="151.3" r="3.9"/>
<circle cx="447.0" cy="150.8" r="3.9"/>
<circle cx="455.0" cy="150.5" r="3.9"/>
<circle cx="499.7" cy="149.3" r="3.9"/>
<circle cx="438.7" cy="155.0" r="3.9"/>
<circle cx="457.0" cy="156.0" r="3.9"/>
<circle cx="473.7" cy="153.8" r="3.9"/>
<circle cx="480.0" cy="153.2" r="3.9"/>
<circle cx="421.7" cy="158.2" r="3.9"/>
<circle cx="448.2" cy="161.0" r="3.9"/>
<circle cx="438.7" cy="162.8" r="3.9"/>
<circle cx="421.3" cy="163.0" r="3.9"/>
<circle cx="471.8" cy="161.2" r="3.9"/>
<circle cx="505.7" cy="160.3" r="3.9"/>
<circle cx="462.8" cy="164.3" r="3.9"/>
<circle cx="479.3" cy="164.3" r="3.9"/>
<circle cx="428.0" cy="169.0" r="3.9"/>
<circle cx="422.0" cy="169.5" r="3.9"/>
<circle cx="458.3" cy="169.2" r="3.9"/>
<circle cx="437.7" cy="173.3" r="3.9"/>
<circle cx="455.0" cy="173.7" r="3.9"/>
<circle cx="474.8" cy="171.5" r="3.9"/>
<circle cx="427.8" cy="178.0" r="3.9"/>
<circle cx="445.7" cy="180.8" r="3.9"/>
<circle cx="470.2" cy="183.5" r="3.9"/>
<circle cx="481.0" cy="188.5" r="3.9"/>
</g>
<g fill="#0a82eb" stroke="#111" stroke-width="0.95">
<circle cx="510.0" cy="15.3" r="3.9"/>
<circle cx="557.2" cy="28.0" r="3.9"/>
<circle cx="519.5" cy="36.0" r="3.9"/>
<circle cx="539.5" cy="46.0" r="3.9"/>
<circle cx="565.0" cy="45.8" r="3.9"/>
<circle cx="590.2" cy="48.3" r="3.9"/>
<circle cx="558.2" cy="58.2" r="3.9"/>
<circle cx="568.0" cy="56.7" r="3.9"/>
<circle cx="585.0" cy="61.3" r="3.9"/>
<circle cx="594.7" cy="66.7" r="3.9"/>
<circle cx="585.3" cy="72.2" r="3.9"/>
<circle cx="563.3" cy="79.7" r="3.9"/>
</g>
<g fill="#ff8a0a" stroke="#111" stroke-width="0.95">
<circle cx="609.3" cy="111.0" r="3.9"/>
<circle cx="642.3" cy="118.3" r="3.9"/>
<circle cx="635.0" cy="122.0" r="3.9"/>
<circle cx="668.7" cy="125.2" r="3.9"/>
<circle cx="721.0" cy="117.0" r="3.9"/>
<circle cx="722.5" cy="125.8" r="3.9"/>
<circle cx="781.0" cy="108.8" r="3.9"/>
<circle cx="749.7" cy="122.5" r="3.9"/>
<circle cx="689.3" cy="130.8" r="3.9"/>
<circle cx="687.7" cy="138.5" r="3.9"/>
<circle cx="715.7" cy="139.2" r="3.9"/>
<circle cx="647.8" cy="139.2" r="3.9"/>
<circle cx="627.2" cy="143.2" r="3.9"/>
<circle cx="680.0" cy="145.3" r="3.9"/>
<circle cx="614.0" cy="151.0" r="3.9"/>
<circle cx="654.5" cy="150.8" r="3.9"/>
<circle cx="642.3" cy="154.3" r="3.9"/>
<circle cx="676.0" cy="153.8" r="3.9"/>
<circle cx="748.5" cy="150.7" r="3.9"/>
<circle cx="621.0" cy="160.7" r="3.9"/>
<circle cx="681.7" cy="162.8" r="3.9"/>
<circle cx="640.5" cy="164.7" r="3.9"/>
<circle cx="655.2" cy="169.8" r="3.9"/>
<circle cx="717.2" cy="170.7" r="3.9"/>
<circle cx="607.0" cy="176.0" r="3.9"/>
<circle cx="638.3" cy="174.7" r="3.9"/>
<circle cx="658.0" cy="179.2" r="3.9"/>
<circle cx="676.8" cy="177.8" r="3.9"/>
<circle cx="790.7" cy="182.2" r="3.9"/>
<circle cx="638.7" cy="184.5" r="3.9"/>
<circle cx="665.2" cy="187.0" r="3.9"/>
<circle cx="712.7" cy="186.2" r="3.9"/>
<circle cx="750.8" cy="188.5" r="3.9"/>
<circle cx="651.7" cy="193.5" r="3.9"/>
<circle cx="782.0" cy="200.5" r="3.9"/>
<circle cx="616.8" cy="204.0" r="3.9"/>
<circle cx="736.2" cy="205.0" r="3.9"/>
<circle cx="653.3" cy="211.0" r="3.9"/>
<circle cx="684.0" cy="211.0" r="3.9"/>
<circle cx="576.8" cy="213.0" r="3.9"/>
<circle cx="670.7" cy="236.5" r="3.9"/>
</g>
<g fill="#ffff14" stroke="#111" stroke-width="0.95">
<circle cx="307.2" cy="212.8" r="3.9"/>
<circle cx="329.7" cy="217.8" r="3.9"/>
<circle cx="325.5" cy="223.0" r="3.9"/>
<circle cx="300.7" cy="234.7" r="3.9"/>
<circle cx="306.5" cy="238.5" r="3.9"/>
<circle cx="269.5" cy="241.5" r="3.9"/>
<circle cx="229.5" cy="246.3" r="3.9"/>
<circle cx="290.7" cy="261.3" r="3.9"/>
<circle cx="262.2" cy="275.0" r="3.9"/>
<circle cx="276.3" cy="284.3" r="3.9"/>
<circle cx="241.2" cy="294.2" r="3.9"/>
<circle cx="254.2" cy="303.5" r="3.9"/>
<circle cx="211.3" cy="308.5" r="3.9"/>
<circle cx="221.0" cy="312.7" r="3.9"/>
<circle cx="241.3" cy="323.7" r="3.9"/>
<circle cx="249.8" cy="329.2" r="3.9"/>
<circle cx="205.0" cy="335.5" r="3.9"/>
</g>
<g fill="#ff00c8" stroke="#111" stroke-width="0.95">
<circle cx="724.3" cy="283.2" r="3.9"/>
<circle cx="750.3" cy="299.5" r="3.9"/>
<circle cx="776.7" cy="315.0" r="3.9"/>
<circle cx="802.3" cy="330.5" r="3.9"/>
</g>
<g stroke="#565656" stroke-width="0.7" stroke-linejoin="round">
<polygon points="890.8,84.3 897.9,83.0 905.3,84.7 911.1,87.8 912.9,84.2 906.7,80.9 898.1,79.0 890.2,80.3" fill="#ffffff"/>
<polygon points="911.8,84.3 913.2,95.3 914.7,104.9 919.0,109.8 922.0,107.2 918.5,103.1 917.2,94.7 915.8,83.7" fill="#ffffff"/>
<polygon points="880.0,100.0 885.0,82.5 890.0,81.3 896.3,86.3 893.7,95.0 902.5,97.0 901.3,105.0" fill="#ff8a0a"/>
<polygon points="919.0,110.1 939.9,114.1 941.1,108.9 920.0,104.9" fill="#ff0000"/>
<polygon points="939.9,114.1 952.9,117.9 962.4,123.8 965.0,119.2 955.1,113.1 941.1,108.9" fill="#00108c" stroke="#101a70"/>
<polygon points="962.4,123.8 980.6,133.0 1003.1,138.3 1004.3,133.1 982.4,128.0 965.0,119.2" fill="#ff0000"/>
<polygon points="1003.1,138.3 1025.8,143.3 1026.8,138.1 1004.3,133.1" fill="#00108c" stroke="#101a70"/>
<polygon points="1025.8,143.3 1054.5,149.1 1055.5,143.9 1026.8,138.1" fill="#ffffff"/>
<polygon points="1054.5,149.1 1070.8,152.6 1071.8,147.4 1055.5,143.9" fill="#00108c" stroke="#101a70"/>
<polygon points="1070.8,152.6 1093.8,157.1 1094.8,151.9 1071.8,147.4" fill="#ffffff"/>
<polygon points="1093.8,157.1 1113.0,161.5 1114.4,156.3 1094.8,151.9" fill="#00108c" stroke="#101a70"/>
<polygon points="1113.0,161.5 1127.0,166.4 1129.0,161.4 1114.4,156.3" fill="#ff0000"/>
<polygon points="1127.0,166.4 1145.4,174.7 1147.6,169.9 1129.0,161.4" fill="#ffffff"/>
<polygon points="984.0,17.0 989.3,18.0 989.0,21.5 985.0,20.5" fill="#ff8a0a"/>
<polygon points="984.5,20.2 999.7,43.3 1004.3,40.7 988.9,17.2" fill="#ff8a0a"/>
<polygon points="999.7,43.3 1007.1,58.1 1011.9,55.9 1004.3,40.7" fill="#ff0000"/>
<polygon points="1007.1,58.1 1012.5,72.2 1017.5,70.4 1011.9,55.9" fill="#ffff14"/>
<polygon points="1012.5,72.2 1021.2,97.2 1026.2,95.4 1017.5,70.4" fill="#ffffff"/>
<polygon points="1021.2,97.2 1028.2,114.7 1033.2,112.7 1026.2,95.4" fill="#ff8a0a"/>
<polygon points="1028.2,114.7 1033.8,129.0 1038.8,127.0 1033.2,112.7" fill="#ff8a0a"/>
<polygon points="1033.8,129.0 1039.5,143.8 1044.5,142.2 1038.8,127.0" fill="#ffffff"/>
<polygon points="1039.5,143.8 1042.4,155.1 1047.6,153.9 1044.5,142.2" fill="#ffffff"/>
<polygon points="1042.4,155.1 1044.9,165.7 1050.1,164.3 1047.6,153.9" fill="#ffffff"/>
<polygon points="1044.9,165.7 1052.0,188.9 1057.0,187.1 1050.1,164.3" fill="#ff8a0a"/>
<polygon points="1052.0,188.9 1057.5,202.3 1062.5,200.3 1057.0,187.1" fill="#ff8a0a"/>
<polygon points="1057.5,202.3 1065.5,222.3 1070.5,220.3 1062.5,200.3" fill="#ff0000"/>
<polygon points="1065.5,222.3 1074.0,243.5 1079.0,241.5 1070.5,220.3" fill="#ff8a0a"/>
<polygon points="1155.8,151.7 1143.2,169.7 1146.8,172.3 1159.4,154.3" fill="#ffffff"/>
<polygon points="1156.6,155.2 1165.6,168.7 1169.4,166.3 1160.4,152.8" fill="#ffffff"/>
<polygon points="1157.6,128.9 1154.3,153.1 1160.5,153.9 1163.8,129.7" fill="#ffffff"/>
<polygon points="1166.2,171.1 1180.7,173.7 1185.3,170.9 1166.8,167.5" fill="#ffffff"/>
<polygon points="1180.7,173.7 1177.3,186.0 1179.9,190.4 1185.3,170.9" fill="#ffffff"/>
<polygon points="1177.3,186.0 1165.2,182.7 1160.8,185.3 1179.9,190.4" fill="#ffffff"/>
<polygon points="1165.2,182.7 1168.3,169.7 1164.7,168.9 1160.8,185.3" fill="#ffffff"/>
<polygon points="1147.9,174.5 1161.2,180.1 1162.8,176.5 1149.5,170.9" fill="#00108c" stroke="#101a70"/>
<polygon points="1141.8,174.7 1113.1,209.7 1116.9,212.9 1145.6,177.9" fill="#ff8a0a"/>
<polygon points="1113.1,209.7 1091.5,237.0 1095.5,240.0 1116.9,212.9" fill="#ff8a0a"/>
<polygon points="1091.5,237.0 1075.0,258.5 1079.0,261.5 1095.5,240.0" fill="#ff8a0a"/>
<polygon points="1180.2,185.9 1205.0,191.6 1206.4,187.4 1181.2,181.5" fill="#0a82eb"/>
<polygon points="1205.0,191.6 1221.1,198.3 1222.9,194.3 1206.4,187.4" fill="#0a82eb"/>
<polygon points="1221.1,198.3 1233.6,204.6 1235.4,200.4 1222.9,194.3" fill="#0a82eb"/>
<polygon points="1233.6,204.6 1251.2,211.6 1252.8,207.4 1235.4,200.4" fill="#0a82eb"/>
<polygon points="1251.2,211.6 1260.8,215.0 1263.9,217.9 1267.5,215.1 1263.2,211.0 1252.8,207.4" fill="#00108c" stroke="#101a70"/>
<polygon points="1263.9,217.9 1268.0,226.1 1272.0,223.9 1267.5,215.1" fill="#ffffff"/>
<polygon points="1268.0,226.1 1272.7,233.9 1280.8,242.0 1291.8,245.8 1293.2,241.6 1283.2,238.0 1276.3,231.1 1272.0,223.9" fill="#ffffff"/>
<polygon points="1272.2,98.2 1261.4,123.5 1266.6,125.5 1277.2,100.4" fill="#ff8a0a"/>
<polygon points="1261.4,123.5 1257.4,135.4 1262.6,137.2 1266.6,125.5" fill="#ffffff"/>
<polygon points="1257.4,135.4 1251.4,153.6 1256.6,155.4 1262.6,137.2" fill="#ff8a0a"/>
<polygon points="1251.4,153.6 1245.0,170.2 1250.0,172.4 1256.6,155.4" fill="#ffffff"/>
<polygon points="1245.0,170.2 1238.2,185.2 1243.2,187.4 1250.0,172.4" fill="#ff0000"/>
<polygon points="1238.2,185.2 1232.7,197.2 1238.3,199.4 1243.2,187.4" fill="#ff0000"/>
<polygon points="1232.7,197.2 1227.1,211.8 1232.9,214.2 1238.3,199.4" fill="#0a82eb"/>
<polygon points="1227.1,211.8 1219.1,228.9 1225.3,231.3 1232.9,214.2" fill="#ffffff"/>
<polygon points="1219.1,228.9 1214.1,242.3 1221.5,244.9 1225.3,231.3" fill="#ff0000"/>
<polygon points="1214.1,242.3 1206.3,261.5 1213.9,264.3 1221.5,244.9" fill="#ff0000"/>
<polygon points="1206.3,261.5 1200.7,278.9 1208.3,281.5 1213.9,264.3" fill="#ff0000"/>
<polygon points="1200.7,278.9 1194.9,294.0 1202.3,297.2 1208.3,281.5" fill="#ff0000"/>
<polygon points="1194.9,294.0 1188.8,305.8 1196.4,309.0 1202.3,297.2" fill="#ff0000"/>
<polygon points="1188.8,305.8 1182.6,323.1 1190.6,325.9 1196.4,309.0" fill="#ff0000"/>
<polygon points="1182.6,323.1 1177.0,338.7 1185.0,341.1 1190.6,325.9" fill="#ff0000"/>
<polygon points="1177.0,338.7 1173.9,351.8 1181.3,353.8 1185.0,341.1" fill="#00108c" stroke="#101a70"/>
<polygon points="1228.0,199.0 1241.5,205.5 1239.5,209.5 1226.5,203.5" fill="#0a82eb"/>
<polygon points="1294.3,244.4 1298.8,225.3 1295.2,224.7 1290.7,243.6" fill="#00108c" stroke="#101a70"/>
<polygon points="1298.8,225.3 1301.3,205.5 1297.7,204.5 1295.2,224.7" fill="#ffffff"/>
<polygon points="1301.3,205.5 1305.3,196.9 1307.4,198.0 1309.6,195.0 1303.7,192.1 1297.7,204.5" fill="#00108c" stroke="#101a70"/>
<polygon points="1307.4,198.0 1319.3,211.2 1322.1,208.8 1309.6,195.0" fill="#ffffff"/>
<polygon points="1319.3,211.2 1326.3,220.4 1330.3,219.6 1322.1,208.8" fill="#00108c" stroke="#101a70"/>
<polygon points="1326.3,220.4 1321.5,239.6 1325.1,240.4 1330.3,219.6" fill="#00108c" stroke="#101a70"/>
<polygon points="1321.5,239.6 1320.5,245.4 1323.5,249.6 1325.1,240.4" fill="#ffffff"/>
<polygon points="1320.5,245.4 1309.7,243.7 1309.3,247.3 1323.5,249.6" fill="#ffffff"/>
<polygon points="1309.7,243.7 1292.7,242.2 1292.3,245.8 1309.3,247.3" fill="#00108c" stroke="#101a70"/>
<polygon points="1327.3,221.1 1344.7,236.1 1346.7,233.9 1329.3,218.9" fill="#0a82eb"/>
<polygon points="1344.7,236.1 1354.7,246.1 1356.7,243.9 1346.7,233.9" fill="#ffffff"/>
<polygon points="1354.7,246.1 1364.7,254.8 1366.7,252.6 1356.7,243.9" fill="#ff0000"/>
<polygon points="1160.3,185.9 1152.9,204.4 1156.1,205.6 1163.3,187.1" fill="#ffffff"/>
<polygon points="1152.9,204.4 1149.9,213.5 1153.1,214.5 1156.1,205.6" fill="#ffff14"/>
<polygon points="1149.9,213.5 1145.0,228.4 1148.0,229.6 1153.1,214.5" fill="#ff8a0a"/>
<polygon points="1145.0,228.4 1138.4,244.4 1141.6,245.6 1148.0,229.6" fill="#ff8a0a"/>
<polygon points="1138.4,244.4 1135.9,252.5 1139.1,253.5 1141.6,245.6" fill="#ff00c8"/>
<polygon points="1135.9,252.5 1130.7,266.3 1134.3,267.7 1139.1,253.5" fill="#ff0000"/>
<polygon points="1130.7,266.3 1124.1,280.7 1127.9,282.3 1134.3,267.7" fill="#ffffff"/>
<polygon points="1124.1,280.7 1119.4,293.2 1122.6,294.8 1127.9,282.3" fill="#ffffff"/>
<polygon points="1119.4,293.2 1112.9,304.5 1115.9,306.5 1122.6,294.8" fill="#ff8a0a"/>
<polygon points="1112.9,304.5 1109.0,310.0 1112.0,312.0 1115.9,306.5" fill="#ffff14"/>
<polygon points="1107.1,311.7 1104.8,315.0 1090.9,327.8 1088.4,330.1 1091.6,333.5 1094.1,331.2 1108.2,318.0 1110.9,314.3" fill="#ffffff"/>
<circle cx="1109.3" cy="312.8" r="2.9" fill="#ffffff"/>
<polygon points="1088.9,330.5 1077.9,340.2 1080.1,342.8 1091.1,333.1" fill="#ff0000"/>
<polygon points="1075.6,341.7 1062.3,351.9 1056.1,356.9 1058.9,360.5 1065.1,355.5 1078.4,345.3" fill="#00108c" stroke="#101a70"/>
<circle cx="1078.7" cy="342.0" r="3.0" fill="#ff0000"/>
<polygon points="1066.3,270.5 1058.4,279.3 1061.6,282.7 1069.7,273.5" fill="#ff8a0a"/>
<polygon points="1058.4,279.3 1048.3,286.7 1046.7,299.6 1042.3,318.1 1046.7,319.3 1051.3,300.4 1052.7,289.3 1061.6,282.7" fill="#ff8a0a"/>
<polygon points="1042.3,318.1 1037.8,331.8 1042.2,333.2 1046.7,319.3" fill="#ff0000"/>
<polygon points="1037.8,331.8 1033.3,344.2 1037.7,345.8 1042.2,333.2" fill="#ff0000"/>
<polygon points="1033.3,344.2 1029.1,356.1 1033.3,357.9 1037.7,345.8" fill="#ff0000"/>
<polygon points="1029.1,356.1 1022.9,367.7 1027.1,369.7 1033.3,357.9" fill="#ffffff"/>
<polygon points="1022.9,367.7 1019.1,376.6 1023.3,378.4 1027.1,369.7" fill="#00108c" stroke="#101a70"/>
<polygon points="1071.5,274.7 1070.0,286.0 1074.4,286.6 1075.9,275.3" fill="#ff8a0a"/>
<polygon points="1070.0,286.0 1067.6,299.5 1072.4,300.5 1074.4,286.6" fill="#ff0000"/>
<polygon points="1067.6,299.5 1062.3,321.9 1067.7,323.1 1072.4,300.5" fill="#ffffff"/>
<polygon points="1062.3,321.9 1057.6,341.5 1063.6,342.5 1067.7,323.1" fill="#ffff14"/>
<polygon points="1057.6,341.5 1056.2,351.6 1062.2,352.4 1063.6,342.5" fill="#00108c" stroke="#101a70"/>
<polygon points="1075.0,243.7 1087.5,241.9 1088.7,242.6 1081.2,252.5 1077.2,259.4 1075.6,261.5 1078.1,266.2 1076.3,275.2 1066.1,271.3 1071.5,259.4 1075.8,252.5" fill="#0a82eb"/>
<polygon points="1046.0,326.9 1045.7,334.7 1049.3,335.3 1049.6,327.1" fill="#ffffff"/>
<polygon points="1045.7,334.7 1043.3,341.9 1040.7,348.6 1040.2,355.4 1043.8,355.6 1044.3,349.4 1046.7,343.1 1049.3,335.3" fill="#ff8a0a"/>
<circle cx="1047.8" cy="327.0" r="1.8" fill="#ffffff"/>
<polygon points="1043.5,367.1 1053.6,368.5 1054.2,370.3 1056.2,369.7 1055.2,366.5 1043.9,364.9" fill="#ff0000"/>
<polygon points="1048.8,369.3 1050.3,374.9 1054.9,375.1 1055.1,372.7 1052.1,372.5 1051.2,368.7" fill="#ff8a0a"/>
<polygon points="1054.8,375.0 1077.3,378.8 1077.7,376.2 1055.2,372.4" fill="#ff0000"/>
<polygon points="1077.3,378.8 1087.3,380.0 1087.7,377.4 1077.7,376.2" fill="#ffffff"/>
<polygon points="1087.3,380.0 1093.8,381.1 1094.2,378.5 1087.7,377.4" fill="#ff8a0a"/>
<polygon points="1093.8,381.1 1101.0,382.3 1101.4,379.7 1094.2,378.5" fill="#ff8a0a"/>
<polygon points="1101.0,382.3 1115.4,384.3 1115.8,381.7 1101.4,379.7" fill="#ff0000"/>
<polygon points="1115.4,384.3 1126.1,385.7 1126.3,383.1 1115.8,381.7" fill="#ff00c8"/>
<polygon points="1126.1,385.7 1139.7,386.8 1139.3,396.5 1141.9,396.5 1142.3,384.4 1126.3,383.1" fill="#ff0000"/>
<polygon points="1113.7,383.0 1116.0,383.5 1115.3,392.5 1112.3,392.2" fill="#ff00c8"/>
<polygon points="1111.7,395.4 1120.4,397.4 1123.5,394.8 1138.3,396.7 1138.7,393.7 1122.5,391.6 1119.6,394.2 1112.3,392.4" fill="#ff8a0a"/>
<polygon points="1136.4,395.9 1135.6,405.6 1146.9,406.9 1147.1,403.7 1139.0,402.8 1139.6,396.1" fill="#ff8a0a"/>
<polygon points="1146.9,406.9 1158.4,407.4 1158.6,404.2 1147.1,403.7" fill="#ffffff"/>
<polygon points="1186.6,388.3 1171.1,386.9 1170.9,389.5 1186.4,390.9" fill="#ffffff"/>
<polygon points="1171.1,386.9 1157.2,385.6 1159.4,388.4 1170.9,389.5" fill="#ffffff"/>
<polygon points="1157.2,385.6 1155.3,396.3 1157.9,396.3 1159.4,388.4" fill="#ffffff"/>
<polygon points="1155.3,396.3 1157.3,406.1 1159.9,405.5 1157.9,396.3" fill="#ffffff"/>
<polygon points="1159.9,392.1 1182.4,394.1 1182.6,391.9 1160.1,389.9" fill="#ffffff"/>
<polygon points="1158.6,397.6 1170.9,399.0 1171.1,396.4 1158.8,395.0" fill="#0a82eb"/>
<polygon points="1170.9,399.0 1181.8,400.2 1179.8,397.4 1171.1,396.4" fill="#ffffff"/>
<polygon points="1181.8,400.2 1183.6,391.8 1181.0,391.2 1179.8,397.4" fill="#ffffff"/>
<polygon points="1175.2,354.7 1172.0,376.2 1176.8,375.8 1179.8,355.3" fill="#ffffff"/>
<polygon points="1172.0,376.2 1174.4,383.1 1184.8,389.1 1184.0,389.8 1187.0,393.2 1192.6,388.3 1178.2,379.9 1176.8,375.8" fill="#0a82eb"/>
<polygon points="1068.4,354.4 1084.1,358.4 1084.7,355.6 1069.0,351.6" fill="#ffffff"/>
<polygon points="1084.1,358.4 1091.3,359.2 1089.8,350.6 1091.9,350.4 1091.9,347.6 1086.6,348.2 1087.9,356.0 1084.7,355.6" fill="#0a82eb"/>
<polygon points="1091.9,350.4 1106.8,352.6 1107.2,349.8 1091.9,347.6" fill="#00108c" stroke="#101a70"/>
<polygon points="1106.8,352.6 1119.8,354.4 1120.2,351.6 1107.2,349.8" fill="#ff0000"/>
<polygon points="1119.8,354.4 1134.2,356.4 1134.6,353.6 1120.2,351.6" fill="#00108c" stroke="#101a70"/>
<polygon points="1134.2,356.4 1146.8,357.9 1147.2,355.1 1134.6,353.6" fill="#ff0000"/>
<polygon points="1146.8,357.9 1155.5,358.9 1155.7,356.1 1147.2,355.1" fill="#ff0000"/>
<polygon points="1155.5,358.9 1163.7,359.7 1163.7,356.9 1155.7,356.1" fill="#ff0000"/>
<polygon points="1163.7,359.7 1175.1,359.0 1174.9,356.2 1163.7,356.9" fill="#ffffff"/>
<polygon points="1178.8,355.4 1194.3,356.3 1195.1,357.1 1195.5,362.3 1199.1,367.5 1251.2,395.5 1253.8,390.5 1202.9,363.3 1200.9,360.3 1200.5,354.5 1196.7,350.9 1179.2,349.8" fill="#00108c" stroke="#101a70"/>
<polygon points="1255.5,392.1 1270.5,362.8 1266.1,360.6 1251.1,389.9" fill="#00108c" stroke="#101a70"/>
<polygon points="1266.3,358.3 1281.7,359.2 1283.3,361.9 1275.0,366.9 1267.8,368.5" fill="#00108c" stroke="#101a70"/>
<polygon points="1250.2,393.8 1295.7,423.1 1299.3,417.5 1253.8,388.2" fill="#00108c" stroke="#101a70"/>
<polygon points="1296.3,419.0 1302.3,409.0 1309.3,411.9 1302.7,423.6 1295.5,424.6" fill="#00108c" stroke="#101a70"/>
<polygon points="1062.3,355.7 1060.0,374.6 1065.0,375.4 1067.3,356.3" fill="#ff8a0a"/>
<polygon points="1060.0,374.6 1057.0,387.9 1061.8,389.1 1065.0,375.4" fill="#ff0000"/>
<polygon points="1041.5,392.7 1057.3,388.2 1061.9,389.0 1060.0,397.6 1044.2,397.5 1041.5,398.5" fill="#ff00c8"/>
<polygon points="1040.9,398.6 1039.8,414.2 1044.0,414.6 1045.1,398.8" fill="#ffffff"/>
<polygon points="1039.8,414.2 1037.9,436.5 1042.1,436.9 1044.0,414.6" fill="#ff8a0a"/>
<polygon points="1037.9,436.5 1037.1,447.3 1041.3,447.7 1042.1,436.9" fill="#ff8a0a"/>
<polygon points="1037.1,447.3 1036.3,464.1 1039.7,464.3 1041.3,447.7" fill="#ff0000"/>
<polygon points="1036.3,464.1 1034.8,484.9 1037.8,485.1 1039.7,464.3" fill="#ffffff"/>
<polygon points="1034.8,484.9 1033.5,501.9 1036.5,502.1 1037.8,485.1" fill="#ffffff"/>
<polygon points="1043.5,349.0 1062.3,353.7 1062.7,351.7 1043.9,347.0" fill="#00108c" stroke="#101a70"/>
<polygon points="1036.2,355.0 1045.6,356.2 1045.0,360.8 1036.2,359.6" fill="#00108c" stroke="#101a70"/>
<polygon points="1056.8,357.3 1043.0,364.6 1044.4,367.4 1058.2,360.1" fill="#ff8a0a"/>
<polygon points="1059.0,346.0 1065.0,346.5 1067.0,352.0 1071.0,355.0 1066.5,358.0 1058.0,360.5 1055.5,357.0 1058.5,352.5" fill="#00108c" stroke="#101a70"/>
<polygon points="1042.8,364.1 1026.8,371.0 1019.4,374.4 1022.6,380.2 1029.2,376.0 1044.6,367.9" fill="#00108c" stroke="#101a70"/>
<polygon points="1018.5,376.8 1016.8,386.8 1020.6,388.2 1023.9,378.2" fill="#00108c" stroke="#101a70"/>
<polygon points="1016.8,386.8 1011.3,397.8 1014.9,399.6 1020.6,388.2" fill="#ff0000"/>
<polygon points="1023.5,370.0 1028.3,372.8 1024.5,379.5 1021.3,386.5 1016.8,385.5 1017.3,380.0 1014.0,381.3 1013.0,378.6 1019.3,375.3" fill="#00108c" stroke="#101a70"/>
<polygon points="1009.0,401.7 1007.2,406.2 1004.9,415.6 1008.9,416.8 1011.8,407.8 1013.4,403.3" fill="#ffffff"/>
<polygon points="1004.9,415.6 1002.0,426.1 1006.0,427.3 1008.9,416.8" fill="#ffffff"/>
<polygon points="1002.0,426.1 998.0,441.1 1002.0,442.3 1006.0,427.3" fill="#ff0000"/>
<polygon points="998.0,441.1 994.7,452.7 998.7,453.9 1002.0,442.3" fill="#ff0000"/>
<polygon points="994.7,452.7 990.5,464.4 994.5,465.6 998.7,453.9" fill="#ffffff"/>
<polygon points="990.5,464.4 987.2,476.1 991.2,477.3 994.5,465.6" fill="#00108c" stroke="#101a70"/>
<circle cx="1011.6" cy="401.8" r="3.8" fill="#ffffff"/>
<polygon points="1016.6,377.2 1006.5,381.6 1008.5,385.8 1018.4,381.2" fill="#ff8a0a"/>
<polygon points="1006.5,381.6 997.5,386.3 999.5,390.3 1008.5,385.8" fill="#ff8a0a"/>
<circle cx="994.8" cy="390.6" r="3.5" fill="#ff8a0a"/>
<polygon points="990.6,390.6 977.7,396.8 979.3,400.2 992.4,394.6" fill="#ffff14"/>
<polygon points="977.7,396.8 972.4,399.1 974.2,402.5 979.3,400.2" fill="#ffffff"/>
<polygon points="972.4,399.1 968.1,402.2 950.3,398.9 949.7,402.7 968.9,406.2 974.2,402.5" fill="#ff0000"/>
<polygon points="950.3,398.9 933.6,396.4 933.0,400.2 949.7,402.7" fill="#ff8a0a"/>
<polygon points="933.6,396.4 907.8,392.3 907.2,396.1 933.0,400.2" fill="#0a82eb"/>
<polygon points="907.8,392.3 887.0,388.9 886.4,392.7 907.2,396.1" fill="#ff0000"/>
<polygon points="918.3,459.2 941.7,457.5 938.3,466.7 930.0,484.2" fill="#ffffff"/>
<polygon points="922.3,461.3 938.3,460.3 929.7,477.5" fill="#ffffff"/>
<polygon points="930.8,470.8 935.2,473.3 930.0,484.2 929.0,476.7" fill="#ff0000"/>
<polygon points="940.0,462.1 960.6,469.6 962.0,465.4 941.6,457.9" fill="#ff0000"/>
<polygon points="960.6,469.6 972.6,473.8 974.0,469.6 962.0,465.4" fill="#ffff14"/>
<polygon points="972.6,473.8 985.9,478.8 987.5,474.6 974.0,469.6" fill="#00108c" stroke="#101a70"/>
<polygon points="990.1,484.0 992.8,493.0 998.5,499.1 1005.9,502.4 1007.5,497.6 1001.5,494.9 997.2,490.4 994.9,482.6" fill="#ffff14"/>
<polygon points="1005.9,502.4 1017.9,505.5 1036.6,506.2 1036.8,501.2 1018.7,500.5 1007.5,497.6" fill="#ff0000"/>
<polygon points="1036.6,506.2 1051.6,506.7 1051.8,501.7 1036.8,501.2" fill="#ff0000"/>
<polygon points="1051.6,506.7 1068.0,507.8 1068.6,502.8 1051.8,501.7" fill="#ff0000"/>
<polygon points="1068.0,507.8 1081.3,510.0 1082.1,505.0 1068.6,502.8" fill="#ff0000"/>
<polygon points="1081.3,510.0 1089.6,511.3 1090.4,506.3 1082.1,505.0" fill="#ffff14"/>
<polygon points="1089.6,511.3 1106.8,514.3 1107.8,509.3 1090.4,506.3" fill="#ff0000"/>
<polygon points="1106.8,514.3 1113.3,515.9 1119.2,513.4 1121.6,506.4 1123.7,501.1 1127.9,498.4 1125.7,492.2 1118.9,497.5 1116.4,504.6 1114.8,509.2 1112.7,510.1 1107.8,509.3" fill="#00108c" stroke="#101a70"/>
<polygon points="1127.9,498.4 1144.1,497.8 1143.9,491.6 1125.7,492.2" fill="#ff0000"/>
<polygon points="1144.1,497.8 1168.3,497.1 1168.3,490.9 1143.9,491.6" fill="#ff0000"/>
<polygon points="1168.3,497.1 1186.3,497.1 1193.0,499.0 1194.2,493.0 1187.1,490.9 1168.3,490.9" fill="#ffff14"/>
<polygon points="1193.0,499.0 1213.6,501.6 1214.4,495.4 1194.2,493.0" fill="#ff0000"/>
<polygon points="1213.6,501.6 1227.6,503.4 1228.4,497.2 1214.4,495.4" fill="#ff0000"/>
<polygon points="1227.6,503.4 1239.2,504.8 1240.0,498.6 1228.4,497.2" fill="#ffff14"/>
<polygon points="1239.2,504.8 1247.7,506.2 1257.2,512.5 1260.8,507.5 1250.1,500.4 1240.0,498.6" fill="#ff0000"/>
<polygon points="1257.2,512.5 1268.2,520.5 1271.8,515.5 1260.8,507.5" fill="#ff0000"/>
<polygon points="1268.2,520.5 1284.1,530.9 1287.3,526.3 1271.8,515.5" fill="#ff0000"/>
<polygon points="1284.1,530.9 1292.2,536.4 1295.2,532.4 1287.3,526.3" fill="#ffffff"/>
<polygon points="1292.2,536.4 1308.1,549.2 1324.7,546.8 1324.9,542.8 1309.3,544.8 1295.2,532.4" fill="#ff0000"/>
<polygon points="1324.7,546.8 1342.8,550.7 1343.6,546.7 1324.9,542.8" fill="#ff0000"/>
<polygon points="1342.8,550.7 1362.4,554.3 1363.2,550.3 1343.6,546.7" fill="#ff8a0a"/>
<polygon points="1314.5,531.5 1343.5,546.3 1343.0,548.0 1314.0,538.0" fill="#ffffff"/>
<polygon points="1311.0,530.0 1314.5,531.0 1312.2,544.8 1308.9,544.8" fill="#ffff14"/>
<polygon points="1366.3,491.8 1379.0,498.7 1362.8,525.2 1365.0,550.5 1358.2,549.4" fill="#ffffff"/>
<polygon points="1364.0,521.0 1392.0,541.0 1408.0,521.5 1410.0,524.5 1392.5,547.5 1362.5,527.0" fill="#ffffff"/>
<path d="M1392 541L1392.5 547.5" fill="none"/>
<polygon points="1376.1,503.0 1392.3,512.9 1395.7,507.5 1379.5,497.6" fill="#ff8a0a"/>
<polygon points="1392.3,512.9 1409.6,523.2 1412.8,517.8 1395.7,507.5" fill="#00108c" stroke="#101a70"/>
<polygon points="984.6,480.1 966.6,540.0 971.8,541.6 990.4,481.9" fill="#00108c" stroke="#101a70"/>
<polygon points="966.6,540.0 963.3,550.9 968.3,552.5 971.8,541.6" fill="#ff0000"/>
<polygon points="963.3,550.9 959.2,563.4 964.2,565.0 968.3,552.5" fill="#ffffff"/>
<polygon points="959.2,563.4 954.2,581.0 959.2,582.4 964.2,565.0" fill="#ff0000"/>
<polygon points="954.2,581.0 949.3,600.1 954.1,601.5 959.2,582.4" fill="#00108c" stroke="#101a70"/>
<polygon points="949.3,600.1 944.3,615.0 949.1,616.6 954.1,601.5" fill="#ffffff"/>
<polygon points="944.3,615.0 940.9,625.9 945.7,627.5 949.1,616.6" fill="#ff8a0a"/>
<polygon points="940.9,625.9 936.8,638.4 941.6,640.0 945.7,627.5" fill="#ffff14"/>
<polygon points="936.8,638.4 932.4,651.8 937.0,653.2 941.6,640.0" fill="#ff8a0a"/>
<polygon points="932.4,651.8 929.0,664.3 933.6,665.7 937.0,653.2" fill="#ffffff"/>
<polygon points="929.0,664.3 923.5,680.9 928.1,682.5 933.6,665.7" fill="#ffffff"/>
<polygon points="923.5,680.9 916.5,701.7 921.1,703.3 928.1,682.5" fill="#ffffff"/>
<polygon points="982.5,474.0 993.0,473.5 996.3,482.5 991.0,486.5 984.3,485.5" fill="#00108c" stroke="#101a70"/>
<polygon points="914.2,709.0 915.3,705.0 917.0,705.5 917.5,702.0 922.5,703.0 921.5,710.5 921.0,711.0" fill="#00108c" stroke="#101a70"/>
<polygon points="915.4,708.3 921.3,768.6 927.5,768.0 921.0,707.7" fill="#00108c" stroke="#101a70"/>
<polygon points="921.3,768.6 924.2,797.9 930.8,797.1 927.5,768.0" fill="#ffffff"/>
<polygon points="924.2,797.9 928.4,835.4 935.0,834.6 930.8,797.1" fill="#ffffff"/>
<polygon points="928.4,835.4 930.9,853.8 937.5,852.8 935.0,834.6" fill="#ffffff"/>
<polygon points="930.9,853.8 933.3,868.7 946.9,875.5 949.7,869.5 939.3,864.3 937.5,852.8" fill="#ffffff"/>
<polygon points="946.9,875.5 960.2,881.8 963.2,875.8 949.7,869.5" fill="#ffffff"/>
<polygon points="960.2,881.8 970.2,886.9 966.9,892.8 973.1,895.2 979.4,884.1 963.2,875.8" fill="#ffffff"/>
<polygon points="966.9,892.8 963.8,907.8 970.2,909.2 973.1,895.2" fill="#ffffff"/>
<polygon points="964.8,911.2 968.6,916.4 975.7,920.3 986.9,925.3 989.1,920.1 978.3,915.3 972.4,912.0 969.2,907.8" fill="#ff8a0a"/>
<polygon points="989.0,919.5 997.5,925.3 998.3,928.2 993.0,931.5 988.2,930.0 985.7,925.5" fill="#0a82eb"/>
</g>
</svg>
</body></html>
